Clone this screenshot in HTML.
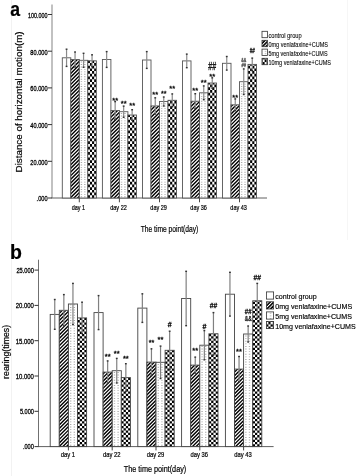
<!DOCTYPE html>
<html><head><meta charset="utf-8"><style>
html,body{margin:0;padding:0;background:#fff;width:359px;height:476px;overflow:hidden;}
svg{display:block;font-family:"Liberation Sans", sans-serif;filter:grayscale(1);}
text{stroke:#000;stroke-width:0.2px;paint-order:stroke;}
.tl{stroke-width:0.3px;}
</style></head><body>
<svg width="359" height="476" viewBox="0 0 359 476" font-family='"Liberation Sans", sans-serif'>
<defs>
 <pattern id="stA" patternUnits="userSpaceOnUse" width="2.55" height="2.55" patternTransform="rotate(45)">
  <rect width="2.55" height="2.55" fill="#000"/><rect x="0" width="0.95" height="2.55" fill="#fff"/>
 </pattern>
 <pattern id="stB" patternUnits="userSpaceOnUse" width="2.55" height="2.55" patternTransform="rotate(45)">
  <rect width="2.55" height="2.55" fill="#000"/><rect x="0" width="0.95" height="2.55" fill="#fff"/>
 </pattern>
 <pattern id="ckA" patternUnits="userSpaceOnUse" width="4.2" height="5.4">
  <rect width="4.2" height="5.4" fill="#fff"/><rect width="2.1" height="2.7" fill="#000"/><rect x="2.1" y="2.7" width="2.1" height="2.7" fill="#000"/>
 </pattern>
 <pattern id="ckB" patternUnits="userSpaceOnUse" width="4.4" height="4.6">
  <rect width="4.4" height="4.6" fill="#fff"/><rect width="2.2" height="2.3" fill="#000"/><rect x="2.2" y="2.3" width="2.2" height="2.3" fill="#000"/>
 </pattern>
 <pattern id="dtA" patternUnits="userSpaceOnUse" width="4.25" height="2.5">
  <rect width="4.25" height="2.5" fill="#fff"/><rect x="1.4" y="0.8" width="1.4" height="0.9" fill="#aaa"/>
 </pattern>
 <pattern id="dtB" patternUnits="userSpaceOnUse" width="4.55" height="2.6">
  <rect width="4.55" height="2.6" fill="#fff"/><rect x="1.5" y="0.8" width="1.4" height="0.9" fill="#aaa"/>
 </pattern>
</defs><rect width="359" height="476" fill="#fff"/><line x1="11.5" y1="0" x2="11.5" y2="476" stroke="#f2f2f2" stroke-width="1"/><line x1="347.5" y1="0" x2="347.5" y2="240" stroke="#f6f6f6" stroke-width="1"/><line x1="52" y1="4.5" x2="52" y2="198" stroke="#a0a0a0" stroke-width="1.3"/>
<line x1="51.5" y1="198" x2="267" y2="198" stroke="#606060" stroke-width="1"/>
<line x1="48" y1="14.5" x2="52" y2="14.5" stroke="#333" stroke-width="1"/>
<text x="47.6" y="17.8" font-size="7.6" text-anchor="end" font-weight="normal" fill="#000" textLength="19.5" lengthAdjust="spacingAndGlyphs" class="tl">100.000</text>
<line x1="48" y1="51.2" x2="52" y2="51.2" stroke="#333" stroke-width="1"/>
<text x="47.6" y="54.5" font-size="7.6" text-anchor="end" font-weight="normal" fill="#000" textLength="17.3" lengthAdjust="spacingAndGlyphs" class="tl">80.000</text>
<line x1="48" y1="87.9" x2="52" y2="87.9" stroke="#333" stroke-width="1"/>
<text x="47.6" y="91.2" font-size="7.6" text-anchor="end" font-weight="normal" fill="#000" textLength="17.3" lengthAdjust="spacingAndGlyphs" class="tl">60.000</text>
<line x1="48" y1="124.6" x2="52" y2="124.6" stroke="#333" stroke-width="1"/>
<text x="47.6" y="127.89999999999999" font-size="7.6" text-anchor="end" font-weight="normal" fill="#000" textLength="17.3" lengthAdjust="spacingAndGlyphs" class="tl">40.000</text>
<line x1="48" y1="161.3" x2="52" y2="161.3" stroke="#333" stroke-width="1"/>
<text x="47.6" y="164.60000000000002" font-size="7.6" text-anchor="end" font-weight="normal" fill="#000" textLength="17.3" lengthAdjust="spacingAndGlyphs" class="tl">20.000</text>
<line x1="48" y1="198" x2="52" y2="198" stroke="#333" stroke-width="1"/>
<text x="47.6" y="201.3" font-size="7.6" text-anchor="end" font-weight="normal" fill="#000" textLength="11" lengthAdjust="spacingAndGlyphs" class="tl">.000</text>
<line x1="79.3" y1="198" x2="79.3" y2="202.3" stroke="#333" stroke-width="0.9"/>
<text x="78.39999999999999" y="210.2" font-size="6.8" text-anchor="middle" font-weight="normal" fill="#000" textLength="13.4" lengthAdjust="spacingAndGlyphs" >day 1</text>
<rect x="62.30" y="57.8" width="8.5" height="140.20" fill="#fff" stroke="#555" stroke-width="0.9"/>
<clipPath id="c1"><rect x="70.80" y="59.50" width="8.50" height="138.50"/></clipPath>
<g clip-path="url(#c1)">
<rect x="70.80" y="59.50" width="8.50" height="138.50" fill="#000"/>
<path d="M69.80 54.30L80.30 43.80M69.80 57.95L80.30 47.45M69.80 61.60L80.30 51.10M69.80 65.25L80.30 54.75M69.80 68.90L80.30 58.40M69.80 72.55L80.30 62.05M69.80 76.20L80.30 65.70M69.80 79.85L80.30 69.35M69.80 83.50L80.30 73.00M69.80 87.15L80.30 76.65M69.80 90.80L80.30 80.30M69.80 94.45L80.30 83.95M69.80 98.10L80.30 87.60M69.80 101.75L80.30 91.25M69.80 105.40L80.30 94.90M69.80 109.05L80.30 98.55M69.80 112.70L80.30 102.20M69.80 116.35L80.30 105.85M69.80 120.00L80.30 109.50M69.80 123.65L80.30 113.15M69.80 127.30L80.30 116.80M69.80 130.95L80.30 120.45M69.80 134.60L80.30 124.10M69.80 138.25L80.30 127.75M69.80 141.90L80.30 131.40M69.80 145.55L80.30 135.05M69.80 149.20L80.30 138.70M69.80 152.85L80.30 142.35M69.80 156.50L80.30 146.00M69.80 160.15L80.30 149.65M69.80 163.80L80.30 153.30M69.80 167.45L80.30 156.95M69.80 171.10L80.30 160.60M69.80 174.75L80.30 164.25M69.80 178.40L80.30 167.90M69.80 182.05L80.30 171.55M69.80 185.70L80.30 175.20M69.80 189.35L80.30 178.85M69.80 193.00L80.30 182.50M69.80 196.65L80.30 186.15M69.80 200.30L80.30 189.80M69.80 203.95L80.30 193.45M69.80 207.60L80.30 197.10" stroke="#fff" stroke-width="1.2" fill="none"/>
</g>
<rect x="70.80" y="59.5" width="8.5" height="138.50" fill="none" stroke="#555" stroke-width="0.9"/>
<clipPath id="c2"><rect x="79.30" y="60.30" width="8.50" height="137.70"/></clipPath>
<g clip-path="url(#c2)">
<rect x="79.30" y="60.30" width="8.50" height="137.70" fill="#fff"/>
<path d="M80.72 196.35h1.4v0.9h-1.4zM84.12 196.35h1.4v0.9h-1.4zM80.72 193.90h1.4v0.9h-1.4zM84.12 193.90h1.4v0.9h-1.4zM80.72 191.45h1.4v0.9h-1.4zM84.12 191.45h1.4v0.9h-1.4zM80.72 189.00h1.4v0.9h-1.4zM84.12 189.00h1.4v0.9h-1.4zM80.72 186.55h1.4v0.9h-1.4zM84.12 186.55h1.4v0.9h-1.4zM80.72 184.10h1.4v0.9h-1.4zM84.12 184.10h1.4v0.9h-1.4zM80.72 181.65h1.4v0.9h-1.4zM84.12 181.65h1.4v0.9h-1.4zM80.72 179.20h1.4v0.9h-1.4zM84.12 179.20h1.4v0.9h-1.4zM80.72 176.75h1.4v0.9h-1.4zM84.12 176.75h1.4v0.9h-1.4zM80.72 174.30h1.4v0.9h-1.4zM84.12 174.30h1.4v0.9h-1.4zM80.72 171.85h1.4v0.9h-1.4zM84.12 171.85h1.4v0.9h-1.4zM80.72 169.40h1.4v0.9h-1.4zM84.12 169.40h1.4v0.9h-1.4zM80.72 166.95h1.4v0.9h-1.4zM84.12 166.95h1.4v0.9h-1.4zM80.72 164.50h1.4v0.9h-1.4zM84.12 164.50h1.4v0.9h-1.4zM80.72 162.05h1.4v0.9h-1.4zM84.12 162.05h1.4v0.9h-1.4zM80.72 159.60h1.4v0.9h-1.4zM84.12 159.60h1.4v0.9h-1.4zM80.72 157.15h1.4v0.9h-1.4zM84.12 157.15h1.4v0.9h-1.4zM80.72 154.70h1.4v0.9h-1.4zM84.12 154.70h1.4v0.9h-1.4zM80.72 152.25h1.4v0.9h-1.4zM84.12 152.25h1.4v0.9h-1.4zM80.72 149.80h1.4v0.9h-1.4zM84.12 149.80h1.4v0.9h-1.4zM80.72 147.35h1.4v0.9h-1.4zM84.12 147.35h1.4v0.9h-1.4zM80.72 144.90h1.4v0.9h-1.4zM84.12 144.90h1.4v0.9h-1.4zM80.72 142.45h1.4v0.9h-1.4zM84.12 142.45h1.4v0.9h-1.4zM80.72 140.00h1.4v0.9h-1.4zM84.12 140.00h1.4v0.9h-1.4zM80.72 137.55h1.4v0.9h-1.4zM84.12 137.55h1.4v0.9h-1.4zM80.72 135.10h1.4v0.9h-1.4zM84.12 135.10h1.4v0.9h-1.4zM80.72 132.65h1.4v0.9h-1.4zM84.12 132.65h1.4v0.9h-1.4zM80.72 130.20h1.4v0.9h-1.4zM84.12 130.20h1.4v0.9h-1.4zM80.72 127.75h1.4v0.9h-1.4zM84.12 127.75h1.4v0.9h-1.4zM80.72 125.30h1.4v0.9h-1.4zM84.12 125.30h1.4v0.9h-1.4zM80.72 122.85h1.4v0.9h-1.4zM84.12 122.85h1.4v0.9h-1.4zM80.72 120.40h1.4v0.9h-1.4zM84.12 120.40h1.4v0.9h-1.4zM80.72 117.95h1.4v0.9h-1.4zM84.12 117.95h1.4v0.9h-1.4zM80.72 115.50h1.4v0.9h-1.4zM84.12 115.50h1.4v0.9h-1.4zM80.72 113.05h1.4v0.9h-1.4zM84.12 113.05h1.4v0.9h-1.4zM80.72 110.60h1.4v0.9h-1.4zM84.12 110.60h1.4v0.9h-1.4zM80.72 108.15h1.4v0.9h-1.4zM84.12 108.15h1.4v0.9h-1.4zM80.72 105.70h1.4v0.9h-1.4zM84.12 105.70h1.4v0.9h-1.4zM80.72 103.25h1.4v0.9h-1.4zM84.12 103.25h1.4v0.9h-1.4zM80.72 100.80h1.4v0.9h-1.4zM84.12 100.80h1.4v0.9h-1.4zM80.72 98.35h1.4v0.9h-1.4zM84.12 98.35h1.4v0.9h-1.4zM80.72 95.90h1.4v0.9h-1.4zM84.12 95.90h1.4v0.9h-1.4zM80.72 93.45h1.4v0.9h-1.4zM84.12 93.45h1.4v0.9h-1.4zM80.72 91.00h1.4v0.9h-1.4zM84.12 91.00h1.4v0.9h-1.4zM80.72 88.55h1.4v0.9h-1.4zM84.12 88.55h1.4v0.9h-1.4zM80.72 86.10h1.4v0.9h-1.4zM84.12 86.10h1.4v0.9h-1.4zM80.72 83.65h1.4v0.9h-1.4zM84.12 83.65h1.4v0.9h-1.4zM80.72 81.20h1.4v0.9h-1.4zM84.12 81.20h1.4v0.9h-1.4zM80.72 78.75h1.4v0.9h-1.4zM84.12 78.75h1.4v0.9h-1.4zM80.72 76.30h1.4v0.9h-1.4zM84.12 76.30h1.4v0.9h-1.4zM80.72 73.85h1.4v0.9h-1.4zM84.12 73.85h1.4v0.9h-1.4zM80.72 71.40h1.4v0.9h-1.4zM84.12 71.40h1.4v0.9h-1.4zM80.72 68.95h1.4v0.9h-1.4zM84.12 68.95h1.4v0.9h-1.4zM80.72 66.50h1.4v0.9h-1.4zM84.12 66.50h1.4v0.9h-1.4zM80.72 64.05h1.4v0.9h-1.4zM84.12 64.05h1.4v0.9h-1.4zM80.72 61.60h1.4v0.9h-1.4zM84.12 61.60h1.4v0.9h-1.4zM80.72 59.15h1.4v0.9h-1.4zM84.12 59.15h1.4v0.9h-1.4z" fill="#aaa"/>
</g>
<rect x="79.30" y="60.3" width="8.5" height="137.70" fill="none" stroke="#555" stroke-width="0.9"/>
<clipPath id="c3"><rect x="87.80" y="60.80" width="8.50" height="137.20"/></clipPath>
<g clip-path="url(#c3)">
<rect x="87.80" y="60.80" width="8.50" height="137.20" fill="#fff"/>
<path d="M87.80 195.30h2.125v2.7h-2.125zM92.05 195.30h2.125v2.7h-2.125zM96.30 195.30h2.125v2.7h-2.125zM89.92 192.60h2.125v2.7h-2.125zM94.17 192.60h2.125v2.7h-2.125zM98.42 192.60h2.125v2.7h-2.125zM87.80 189.90h2.125v2.7h-2.125zM92.05 189.90h2.125v2.7h-2.125zM96.30 189.90h2.125v2.7h-2.125zM89.92 187.20h2.125v2.7h-2.125zM94.17 187.20h2.125v2.7h-2.125zM98.42 187.20h2.125v2.7h-2.125zM87.80 184.50h2.125v2.7h-2.125zM92.05 184.50h2.125v2.7h-2.125zM96.30 184.50h2.125v2.7h-2.125zM89.92 181.80h2.125v2.7h-2.125zM94.17 181.80h2.125v2.7h-2.125zM98.42 181.80h2.125v2.7h-2.125zM87.80 179.10h2.125v2.7h-2.125zM92.05 179.10h2.125v2.7h-2.125zM96.30 179.10h2.125v2.7h-2.125zM89.92 176.40h2.125v2.7h-2.125zM94.17 176.40h2.125v2.7h-2.125zM98.42 176.40h2.125v2.7h-2.125zM87.80 173.70h2.125v2.7h-2.125zM92.05 173.70h2.125v2.7h-2.125zM96.30 173.70h2.125v2.7h-2.125zM89.92 171.00h2.125v2.7h-2.125zM94.17 171.00h2.125v2.7h-2.125zM98.42 171.00h2.125v2.7h-2.125zM87.80 168.30h2.125v2.7h-2.125zM92.05 168.30h2.125v2.7h-2.125zM96.30 168.30h2.125v2.7h-2.125zM89.92 165.60h2.125v2.7h-2.125zM94.17 165.60h2.125v2.7h-2.125zM98.42 165.60h2.125v2.7h-2.125zM87.80 162.90h2.125v2.7h-2.125zM92.05 162.90h2.125v2.7h-2.125zM96.30 162.90h2.125v2.7h-2.125zM89.92 160.20h2.125v2.7h-2.125zM94.17 160.20h2.125v2.7h-2.125zM98.42 160.20h2.125v2.7h-2.125zM87.80 157.50h2.125v2.7h-2.125zM92.05 157.50h2.125v2.7h-2.125zM96.30 157.50h2.125v2.7h-2.125zM89.92 154.80h2.125v2.7h-2.125zM94.17 154.80h2.125v2.7h-2.125zM98.42 154.80h2.125v2.7h-2.125zM87.80 152.10h2.125v2.7h-2.125zM92.05 152.10h2.125v2.7h-2.125zM96.30 152.10h2.125v2.7h-2.125zM89.92 149.40h2.125v2.7h-2.125zM94.17 149.40h2.125v2.7h-2.125zM98.42 149.40h2.125v2.7h-2.125zM87.80 146.70h2.125v2.7h-2.125zM92.05 146.70h2.125v2.7h-2.125zM96.30 146.70h2.125v2.7h-2.125zM89.92 144.00h2.125v2.7h-2.125zM94.17 144.00h2.125v2.7h-2.125zM98.42 144.00h2.125v2.7h-2.125zM87.80 141.30h2.125v2.7h-2.125zM92.05 141.30h2.125v2.7h-2.125zM96.30 141.30h2.125v2.7h-2.125zM89.92 138.60h2.125v2.7h-2.125zM94.17 138.60h2.125v2.7h-2.125zM98.42 138.60h2.125v2.7h-2.125zM87.80 135.90h2.125v2.7h-2.125zM92.05 135.90h2.125v2.7h-2.125zM96.30 135.90h2.125v2.7h-2.125zM89.92 133.20h2.125v2.7h-2.125zM94.17 133.20h2.125v2.7h-2.125zM98.42 133.20h2.125v2.7h-2.125zM87.80 130.50h2.125v2.7h-2.125zM92.05 130.50h2.125v2.7h-2.125zM96.30 130.50h2.125v2.7h-2.125zM89.92 127.80h2.125v2.7h-2.125zM94.17 127.80h2.125v2.7h-2.125zM98.42 127.80h2.125v2.7h-2.125zM87.80 125.10h2.125v2.7h-2.125zM92.05 125.10h2.125v2.7h-2.125zM96.30 125.10h2.125v2.7h-2.125zM89.92 122.40h2.125v2.7h-2.125zM94.17 122.40h2.125v2.7h-2.125zM98.42 122.40h2.125v2.7h-2.125zM87.80 119.70h2.125v2.7h-2.125zM92.05 119.70h2.125v2.7h-2.125zM96.30 119.70h2.125v2.7h-2.125zM89.92 117.00h2.125v2.7h-2.125zM94.17 117.00h2.125v2.7h-2.125zM98.42 117.00h2.125v2.7h-2.125zM87.80 114.30h2.125v2.7h-2.125zM92.05 114.30h2.125v2.7h-2.125zM96.30 114.30h2.125v2.7h-2.125zM89.92 111.60h2.125v2.7h-2.125zM94.17 111.60h2.125v2.7h-2.125zM98.42 111.60h2.125v2.7h-2.125zM87.80 108.90h2.125v2.7h-2.125zM92.05 108.90h2.125v2.7h-2.125zM96.30 108.90h2.125v2.7h-2.125zM89.92 106.20h2.125v2.7h-2.125zM94.17 106.20h2.125v2.7h-2.125zM98.42 106.20h2.125v2.7h-2.125zM87.80 103.50h2.125v2.7h-2.125zM92.05 103.50h2.125v2.7h-2.125zM96.30 103.50h2.125v2.7h-2.125zM89.92 100.80h2.125v2.7h-2.125zM94.17 100.80h2.125v2.7h-2.125zM98.42 100.80h2.125v2.7h-2.125zM87.80 98.10h2.125v2.7h-2.125zM92.05 98.10h2.125v2.7h-2.125zM96.30 98.10h2.125v2.7h-2.125zM89.92 95.40h2.125v2.7h-2.125zM94.17 95.40h2.125v2.7h-2.125zM98.42 95.40h2.125v2.7h-2.125zM87.80 92.70h2.125v2.7h-2.125zM92.05 92.70h2.125v2.7h-2.125zM96.30 92.70h2.125v2.7h-2.125zM89.92 90.00h2.125v2.7h-2.125zM94.17 90.00h2.125v2.7h-2.125zM98.42 90.00h2.125v2.7h-2.125zM87.80 87.30h2.125v2.7h-2.125zM92.05 87.30h2.125v2.7h-2.125zM96.30 87.30h2.125v2.7h-2.125zM89.92 84.60h2.125v2.7h-2.125zM94.17 84.60h2.125v2.7h-2.125zM98.42 84.60h2.125v2.7h-2.125zM87.80 81.90h2.125v2.7h-2.125zM92.05 81.90h2.125v2.7h-2.125zM96.30 81.90h2.125v2.7h-2.125zM89.92 79.20h2.125v2.7h-2.125zM94.17 79.20h2.125v2.7h-2.125zM98.42 79.20h2.125v2.7h-2.125zM87.80 76.50h2.125v2.7h-2.125zM92.05 76.50h2.125v2.7h-2.125zM96.30 76.50h2.125v2.7h-2.125zM89.92 73.80h2.125v2.7h-2.125zM94.17 73.80h2.125v2.7h-2.125zM98.42 73.80h2.125v2.7h-2.125zM87.80 71.10h2.125v2.7h-2.125zM92.05 71.10h2.125v2.7h-2.125zM96.30 71.10h2.125v2.7h-2.125zM89.92 68.40h2.125v2.7h-2.125zM94.17 68.40h2.125v2.7h-2.125zM98.42 68.40h2.125v2.7h-2.125zM87.80 65.70h2.125v2.7h-2.125zM92.05 65.70h2.125v2.7h-2.125zM96.30 65.70h2.125v2.7h-2.125zM89.92 63.00h2.125v2.7h-2.125zM94.17 63.00h2.125v2.7h-2.125zM98.42 63.00h2.125v2.7h-2.125zM87.80 60.30h2.125v2.7h-2.125zM92.05 60.30h2.125v2.7h-2.125zM96.30 60.30h2.125v2.7h-2.125z" fill="#000"/>
</g>
<rect x="87.80" y="60.8" width="8.5" height="137.20" fill="none" stroke="#555" stroke-width="0.9"/>
<line x1="66.55" y1="49.2" x2="66.55" y2="66.40" stroke="#8a8a8a" stroke-width="1.2"/>
<rect x="65.65" y="48.50" width="1.8" height="1.4" fill="#333"/>
<rect x="65.65" y="65.70" width="1.8" height="1.4" fill="#333"/>
<line x1="75.05" y1="52.0" x2="75.05" y2="67.00" stroke="#8a8a8a" stroke-width="1.2"/>
<rect x="74.15" y="51.30" width="1.8" height="1.4" fill="#333"/>
<rect x="74.15" y="66.30" width="1.8" height="1.4" fill="#333"/>
<line x1="83.55" y1="53.3" x2="83.55" y2="67.30" stroke="#8a8a8a" stroke-width="1.2"/>
<rect x="82.65" y="52.60" width="1.8" height="1.4" fill="#333"/>
<rect x="82.65" y="66.60" width="1.8" height="1.4" fill="#333"/>
<line x1="92.05" y1="54.8" x2="92.05" y2="66.80" stroke="#8a8a8a" stroke-width="1.2"/>
<rect x="91.15" y="54.10" width="1.8" height="1.4" fill="#333"/>
<rect x="91.15" y="66.10" width="1.8" height="1.4" fill="#333"/>
<line x1="119.4" y1="198" x2="119.4" y2="202.3" stroke="#333" stroke-width="0.9"/>
<text x="118.5" y="210.2" font-size="6.8" text-anchor="middle" font-weight="normal" fill="#000" textLength="16.5" lengthAdjust="spacingAndGlyphs" >day 22</text>
<rect x="102.40" y="59.5" width="8.5" height="138.50" fill="#fff" stroke="#555" stroke-width="0.9"/>
<clipPath id="c4"><rect x="110.90" y="110.50" width="8.50" height="87.50"/></clipPath>
<g clip-path="url(#c4)">
<rect x="110.90" y="110.50" width="8.50" height="87.50" fill="#000"/>
<path d="M109.90 105.45L120.40 94.95M109.90 109.10L120.40 98.60M109.90 112.75L120.40 102.25M109.90 116.40L120.40 105.90M109.90 120.05L120.40 109.55M109.90 123.70L120.40 113.20M109.90 127.35L120.40 116.85M109.90 131.00L120.40 120.50M109.90 134.65L120.40 124.15M109.90 138.30L120.40 127.80M109.90 141.95L120.40 131.45M109.90 145.60L120.40 135.10M109.90 149.25L120.40 138.75M109.90 152.90L120.40 142.40M109.90 156.55L120.40 146.05M109.90 160.20L120.40 149.70M109.90 163.85L120.40 153.35M109.90 167.50L120.40 157.00M109.90 171.15L120.40 160.65M109.90 174.80L120.40 164.30M109.90 178.45L120.40 167.95M109.90 182.10L120.40 171.60M109.90 185.75L120.40 175.25M109.90 189.40L120.40 178.90M109.90 193.05L120.40 182.55M109.90 196.70L120.40 186.20M109.90 200.35L120.40 189.85M109.90 204.00L120.40 193.50M109.90 207.65L120.40 197.15" stroke="#fff" stroke-width="1.2" fill="none"/>
</g>
<rect x="110.90" y="110.5" width="8.5" height="87.50" fill="none" stroke="#555" stroke-width="0.9"/>
<clipPath id="c5"><rect x="119.40" y="111.70" width="8.50" height="86.30"/></clipPath>
<g clip-path="url(#c5)">
<rect x="119.40" y="111.70" width="8.50" height="86.30" fill="#fff"/>
<path d="M120.83 196.35h1.4v0.9h-1.4zM124.23 196.35h1.4v0.9h-1.4zM120.83 193.90h1.4v0.9h-1.4zM124.23 193.90h1.4v0.9h-1.4zM120.83 191.45h1.4v0.9h-1.4zM124.23 191.45h1.4v0.9h-1.4zM120.83 189.00h1.4v0.9h-1.4zM124.23 189.00h1.4v0.9h-1.4zM120.83 186.55h1.4v0.9h-1.4zM124.23 186.55h1.4v0.9h-1.4zM120.83 184.10h1.4v0.9h-1.4zM124.23 184.10h1.4v0.9h-1.4zM120.83 181.65h1.4v0.9h-1.4zM124.23 181.65h1.4v0.9h-1.4zM120.83 179.20h1.4v0.9h-1.4zM124.23 179.20h1.4v0.9h-1.4zM120.83 176.75h1.4v0.9h-1.4zM124.23 176.75h1.4v0.9h-1.4zM120.83 174.30h1.4v0.9h-1.4zM124.23 174.30h1.4v0.9h-1.4zM120.83 171.85h1.4v0.9h-1.4zM124.23 171.85h1.4v0.9h-1.4zM120.83 169.40h1.4v0.9h-1.4zM124.23 169.40h1.4v0.9h-1.4zM120.83 166.95h1.4v0.9h-1.4zM124.23 166.95h1.4v0.9h-1.4zM120.83 164.50h1.4v0.9h-1.4zM124.23 164.50h1.4v0.9h-1.4zM120.83 162.05h1.4v0.9h-1.4zM124.23 162.05h1.4v0.9h-1.4zM120.83 159.60h1.4v0.9h-1.4zM124.23 159.60h1.4v0.9h-1.4zM120.83 157.15h1.4v0.9h-1.4zM124.23 157.15h1.4v0.9h-1.4zM120.83 154.70h1.4v0.9h-1.4zM124.23 154.70h1.4v0.9h-1.4zM120.83 152.25h1.4v0.9h-1.4zM124.23 152.25h1.4v0.9h-1.4zM120.83 149.80h1.4v0.9h-1.4zM124.23 149.80h1.4v0.9h-1.4zM120.83 147.35h1.4v0.9h-1.4zM124.23 147.35h1.4v0.9h-1.4zM120.83 144.90h1.4v0.9h-1.4zM124.23 144.90h1.4v0.9h-1.4zM120.83 142.45h1.4v0.9h-1.4zM124.23 142.45h1.4v0.9h-1.4zM120.83 140.00h1.4v0.9h-1.4zM124.23 140.00h1.4v0.9h-1.4zM120.83 137.55h1.4v0.9h-1.4zM124.23 137.55h1.4v0.9h-1.4zM120.83 135.10h1.4v0.9h-1.4zM124.23 135.10h1.4v0.9h-1.4zM120.83 132.65h1.4v0.9h-1.4zM124.23 132.65h1.4v0.9h-1.4zM120.83 130.20h1.4v0.9h-1.4zM124.23 130.20h1.4v0.9h-1.4zM120.83 127.75h1.4v0.9h-1.4zM124.23 127.75h1.4v0.9h-1.4zM120.83 125.30h1.4v0.9h-1.4zM124.23 125.30h1.4v0.9h-1.4zM120.83 122.85h1.4v0.9h-1.4zM124.23 122.85h1.4v0.9h-1.4zM120.83 120.40h1.4v0.9h-1.4zM124.23 120.40h1.4v0.9h-1.4zM120.83 117.95h1.4v0.9h-1.4zM124.23 117.95h1.4v0.9h-1.4zM120.83 115.50h1.4v0.9h-1.4zM124.23 115.50h1.4v0.9h-1.4zM120.83 113.05h1.4v0.9h-1.4zM124.23 113.05h1.4v0.9h-1.4zM120.83 110.60h1.4v0.9h-1.4zM124.23 110.60h1.4v0.9h-1.4z" fill="#aaa"/>
</g>
<rect x="119.40" y="111.7" width="8.5" height="86.30" fill="none" stroke="#555" stroke-width="0.9"/>
<clipPath id="c6"><rect x="127.90" y="115.00" width="8.50" height="83.00"/></clipPath>
<g clip-path="url(#c6)">
<rect x="127.90" y="115.00" width="8.50" height="83.00" fill="#fff"/>
<path d="M127.90 195.30h2.125v2.7h-2.125zM132.15 195.30h2.125v2.7h-2.125zM136.40 195.30h2.125v2.7h-2.125zM130.03 192.60h2.125v2.7h-2.125zM134.28 192.60h2.125v2.7h-2.125zM138.53 192.60h2.125v2.7h-2.125zM127.90 189.90h2.125v2.7h-2.125zM132.15 189.90h2.125v2.7h-2.125zM136.40 189.90h2.125v2.7h-2.125zM130.03 187.20h2.125v2.7h-2.125zM134.28 187.20h2.125v2.7h-2.125zM138.53 187.20h2.125v2.7h-2.125zM127.90 184.50h2.125v2.7h-2.125zM132.15 184.50h2.125v2.7h-2.125zM136.40 184.50h2.125v2.7h-2.125zM130.03 181.80h2.125v2.7h-2.125zM134.28 181.80h2.125v2.7h-2.125zM138.53 181.80h2.125v2.7h-2.125zM127.90 179.10h2.125v2.7h-2.125zM132.15 179.10h2.125v2.7h-2.125zM136.40 179.10h2.125v2.7h-2.125zM130.03 176.40h2.125v2.7h-2.125zM134.28 176.40h2.125v2.7h-2.125zM138.53 176.40h2.125v2.7h-2.125zM127.90 173.70h2.125v2.7h-2.125zM132.15 173.70h2.125v2.7h-2.125zM136.40 173.70h2.125v2.7h-2.125zM130.03 171.00h2.125v2.7h-2.125zM134.28 171.00h2.125v2.7h-2.125zM138.53 171.00h2.125v2.7h-2.125zM127.90 168.30h2.125v2.7h-2.125zM132.15 168.30h2.125v2.7h-2.125zM136.40 168.30h2.125v2.7h-2.125zM130.03 165.60h2.125v2.7h-2.125zM134.28 165.60h2.125v2.7h-2.125zM138.53 165.60h2.125v2.7h-2.125zM127.90 162.90h2.125v2.7h-2.125zM132.15 162.90h2.125v2.7h-2.125zM136.40 162.90h2.125v2.7h-2.125zM130.03 160.20h2.125v2.7h-2.125zM134.28 160.20h2.125v2.7h-2.125zM138.53 160.20h2.125v2.7h-2.125zM127.90 157.50h2.125v2.7h-2.125zM132.15 157.50h2.125v2.7h-2.125zM136.40 157.50h2.125v2.7h-2.125zM130.03 154.80h2.125v2.7h-2.125zM134.28 154.80h2.125v2.7h-2.125zM138.53 154.80h2.125v2.7h-2.125zM127.90 152.10h2.125v2.7h-2.125zM132.15 152.10h2.125v2.7h-2.125zM136.40 152.10h2.125v2.7h-2.125zM130.03 149.40h2.125v2.7h-2.125zM134.28 149.40h2.125v2.7h-2.125zM138.53 149.40h2.125v2.7h-2.125zM127.90 146.70h2.125v2.7h-2.125zM132.15 146.70h2.125v2.7h-2.125zM136.40 146.70h2.125v2.7h-2.125zM130.03 144.00h2.125v2.7h-2.125zM134.28 144.00h2.125v2.7h-2.125zM138.53 144.00h2.125v2.7h-2.125zM127.90 141.30h2.125v2.7h-2.125zM132.15 141.30h2.125v2.7h-2.125zM136.40 141.30h2.125v2.7h-2.125zM130.03 138.60h2.125v2.7h-2.125zM134.28 138.60h2.125v2.7h-2.125zM138.53 138.60h2.125v2.7h-2.125zM127.90 135.90h2.125v2.7h-2.125zM132.15 135.90h2.125v2.7h-2.125zM136.40 135.90h2.125v2.7h-2.125zM130.03 133.20h2.125v2.7h-2.125zM134.28 133.20h2.125v2.7h-2.125zM138.53 133.20h2.125v2.7h-2.125zM127.90 130.50h2.125v2.7h-2.125zM132.15 130.50h2.125v2.7h-2.125zM136.40 130.50h2.125v2.7h-2.125zM130.03 127.80h2.125v2.7h-2.125zM134.28 127.80h2.125v2.7h-2.125zM138.53 127.80h2.125v2.7h-2.125zM127.90 125.10h2.125v2.7h-2.125zM132.15 125.10h2.125v2.7h-2.125zM136.40 125.10h2.125v2.7h-2.125zM130.03 122.40h2.125v2.7h-2.125zM134.28 122.40h2.125v2.7h-2.125zM138.53 122.40h2.125v2.7h-2.125zM127.90 119.70h2.125v2.7h-2.125zM132.15 119.70h2.125v2.7h-2.125zM136.40 119.70h2.125v2.7h-2.125zM130.03 117.00h2.125v2.7h-2.125zM134.28 117.00h2.125v2.7h-2.125zM138.53 117.00h2.125v2.7h-2.125zM127.90 114.30h2.125v2.7h-2.125zM132.15 114.30h2.125v2.7h-2.125zM136.40 114.30h2.125v2.7h-2.125z" fill="#000"/>
</g>
<rect x="127.90" y="115.0" width="8.5" height="83.00" fill="none" stroke="#555" stroke-width="0.9"/>
<line x1="106.65" y1="51.6" x2="106.65" y2="67.40" stroke="#8a8a8a" stroke-width="1.2"/>
<rect x="105.75" y="50.90" width="1.8" height="1.4" fill="#333"/>
<rect x="105.75" y="66.70" width="1.8" height="1.4" fill="#333"/>
<line x1="115.15" y1="101.6" x2="115.15" y2="119.40" stroke="#8a8a8a" stroke-width="1.2"/>
<rect x="114.25" y="100.90" width="1.8" height="1.4" fill="#333"/>
<rect x="114.25" y="118.70" width="1.8" height="1.4" fill="#333"/>
<line x1="123.65" y1="106.1" x2="123.65" y2="117.30" stroke="#8a8a8a" stroke-width="1.2"/>
<rect x="122.75" y="105.40" width="1.8" height="1.4" fill="#333"/>
<rect x="122.75" y="116.60" width="1.8" height="1.4" fill="#333"/>
<line x1="132.15" y1="109.7" x2="132.15" y2="120.30" stroke="#8a8a8a" stroke-width="1.2"/>
<rect x="131.25" y="109.00" width="1.8" height="1.4" fill="#333"/>
<rect x="131.25" y="119.60" width="1.8" height="1.4" fill="#333"/>
<line x1="159.5" y1="198" x2="159.5" y2="202.3" stroke="#333" stroke-width="0.9"/>
<text x="158.6" y="210.2" font-size="6.8" text-anchor="middle" font-weight="normal" fill="#000" textLength="16.5" lengthAdjust="spacingAndGlyphs" >day 29</text>
<rect x="142.50" y="60.0" width="8.5" height="138.00" fill="#fff" stroke="#555" stroke-width="0.9"/>
<clipPath id="c7"><rect x="151.00" y="105.90" width="8.50" height="92.10"/></clipPath>
<g clip-path="url(#c7)">
<rect x="151.00" y="105.90" width="8.50" height="92.10" fill="#000"/>
<path d="M150.00 101.85L160.50 91.35M150.00 105.50L160.50 95.00M150.00 109.15L160.50 98.65M150.00 112.80L160.50 102.30M150.00 116.45L160.50 105.95M150.00 120.10L160.50 109.60M150.00 123.75L160.50 113.25M150.00 127.40L160.50 116.90M150.00 131.05L160.50 120.55M150.00 134.70L160.50 124.20M150.00 138.35L160.50 127.85M150.00 142.00L160.50 131.50M150.00 145.65L160.50 135.15M150.00 149.30L160.50 138.80M150.00 152.95L160.50 142.45M150.00 156.60L160.50 146.10M150.00 160.25L160.50 149.75M150.00 163.90L160.50 153.40M150.00 167.55L160.50 157.05M150.00 171.20L160.50 160.70M150.00 174.85L160.50 164.35M150.00 178.50L160.50 168.00M150.00 182.15L160.50 171.65M150.00 185.80L160.50 175.30M150.00 189.45L160.50 178.95M150.00 193.10L160.50 182.60M150.00 196.75L160.50 186.25M150.00 200.40L160.50 189.90M150.00 204.05L160.50 193.55M150.00 207.70L160.50 197.20" stroke="#fff" stroke-width="1.2" fill="none"/>
</g>
<rect x="151.00" y="105.9" width="8.5" height="92.10" fill="none" stroke="#555" stroke-width="0.9"/>
<clipPath id="c8"><rect x="159.50" y="101.50" width="8.50" height="96.50"/></clipPath>
<g clip-path="url(#c8)">
<rect x="159.50" y="101.50" width="8.50" height="96.50" fill="#fff"/>
<path d="M160.93 196.35h1.4v0.9h-1.4zM164.33 196.35h1.4v0.9h-1.4zM160.93 193.90h1.4v0.9h-1.4zM164.33 193.90h1.4v0.9h-1.4zM160.93 191.45h1.4v0.9h-1.4zM164.33 191.45h1.4v0.9h-1.4zM160.93 189.00h1.4v0.9h-1.4zM164.33 189.00h1.4v0.9h-1.4zM160.93 186.55h1.4v0.9h-1.4zM164.33 186.55h1.4v0.9h-1.4zM160.93 184.10h1.4v0.9h-1.4zM164.33 184.10h1.4v0.9h-1.4zM160.93 181.65h1.4v0.9h-1.4zM164.33 181.65h1.4v0.9h-1.4zM160.93 179.20h1.4v0.9h-1.4zM164.33 179.20h1.4v0.9h-1.4zM160.93 176.75h1.4v0.9h-1.4zM164.33 176.75h1.4v0.9h-1.4zM160.93 174.30h1.4v0.9h-1.4zM164.33 174.30h1.4v0.9h-1.4zM160.93 171.85h1.4v0.9h-1.4zM164.33 171.85h1.4v0.9h-1.4zM160.93 169.40h1.4v0.9h-1.4zM164.33 169.40h1.4v0.9h-1.4zM160.93 166.95h1.4v0.9h-1.4zM164.33 166.95h1.4v0.9h-1.4zM160.93 164.50h1.4v0.9h-1.4zM164.33 164.50h1.4v0.9h-1.4zM160.93 162.05h1.4v0.9h-1.4zM164.33 162.05h1.4v0.9h-1.4zM160.93 159.60h1.4v0.9h-1.4zM164.33 159.60h1.4v0.9h-1.4zM160.93 157.15h1.4v0.9h-1.4zM164.33 157.15h1.4v0.9h-1.4zM160.93 154.70h1.4v0.9h-1.4zM164.33 154.70h1.4v0.9h-1.4zM160.93 152.25h1.4v0.9h-1.4zM164.33 152.25h1.4v0.9h-1.4zM160.93 149.80h1.4v0.9h-1.4zM164.33 149.80h1.4v0.9h-1.4zM160.93 147.35h1.4v0.9h-1.4zM164.33 147.35h1.4v0.9h-1.4zM160.93 144.90h1.4v0.9h-1.4zM164.33 144.90h1.4v0.9h-1.4zM160.93 142.45h1.4v0.9h-1.4zM164.33 142.45h1.4v0.9h-1.4zM160.93 140.00h1.4v0.9h-1.4zM164.33 140.00h1.4v0.9h-1.4zM160.93 137.55h1.4v0.9h-1.4zM164.33 137.55h1.4v0.9h-1.4zM160.93 135.10h1.4v0.9h-1.4zM164.33 135.10h1.4v0.9h-1.4zM160.93 132.65h1.4v0.9h-1.4zM164.33 132.65h1.4v0.9h-1.4zM160.93 130.20h1.4v0.9h-1.4zM164.33 130.20h1.4v0.9h-1.4zM160.93 127.75h1.4v0.9h-1.4zM164.33 127.75h1.4v0.9h-1.4zM160.93 125.30h1.4v0.9h-1.4zM164.33 125.30h1.4v0.9h-1.4zM160.93 122.85h1.4v0.9h-1.4zM164.33 122.85h1.4v0.9h-1.4zM160.93 120.40h1.4v0.9h-1.4zM164.33 120.40h1.4v0.9h-1.4zM160.93 117.95h1.4v0.9h-1.4zM164.33 117.95h1.4v0.9h-1.4zM160.93 115.50h1.4v0.9h-1.4zM164.33 115.50h1.4v0.9h-1.4zM160.93 113.05h1.4v0.9h-1.4zM164.33 113.05h1.4v0.9h-1.4zM160.93 110.60h1.4v0.9h-1.4zM164.33 110.60h1.4v0.9h-1.4zM160.93 108.15h1.4v0.9h-1.4zM164.33 108.15h1.4v0.9h-1.4zM160.93 105.70h1.4v0.9h-1.4zM164.33 105.70h1.4v0.9h-1.4zM160.93 103.25h1.4v0.9h-1.4zM164.33 103.25h1.4v0.9h-1.4zM160.93 100.80h1.4v0.9h-1.4zM164.33 100.80h1.4v0.9h-1.4z" fill="#aaa"/>
</g>
<rect x="159.50" y="101.5" width="8.5" height="96.50" fill="none" stroke="#555" stroke-width="0.9"/>
<clipPath id="c9"><rect x="168.00" y="100.30" width="8.50" height="97.70"/></clipPath>
<g clip-path="url(#c9)">
<rect x="168.00" y="100.30" width="8.50" height="97.70" fill="#fff"/>
<path d="M168.00 195.30h2.125v2.7h-2.125zM172.25 195.30h2.125v2.7h-2.125zM176.50 195.30h2.125v2.7h-2.125zM170.12 192.60h2.125v2.7h-2.125zM174.38 192.60h2.125v2.7h-2.125zM178.62 192.60h2.125v2.7h-2.125zM168.00 189.90h2.125v2.7h-2.125zM172.25 189.90h2.125v2.7h-2.125zM176.50 189.90h2.125v2.7h-2.125zM170.12 187.20h2.125v2.7h-2.125zM174.38 187.20h2.125v2.7h-2.125zM178.62 187.20h2.125v2.7h-2.125zM168.00 184.50h2.125v2.7h-2.125zM172.25 184.50h2.125v2.7h-2.125zM176.50 184.50h2.125v2.7h-2.125zM170.12 181.80h2.125v2.7h-2.125zM174.38 181.80h2.125v2.7h-2.125zM178.62 181.80h2.125v2.7h-2.125zM168.00 179.10h2.125v2.7h-2.125zM172.25 179.10h2.125v2.7h-2.125zM176.50 179.10h2.125v2.7h-2.125zM170.12 176.40h2.125v2.7h-2.125zM174.38 176.40h2.125v2.7h-2.125zM178.62 176.40h2.125v2.7h-2.125zM168.00 173.70h2.125v2.7h-2.125zM172.25 173.70h2.125v2.7h-2.125zM176.50 173.70h2.125v2.7h-2.125zM170.12 171.00h2.125v2.7h-2.125zM174.38 171.00h2.125v2.7h-2.125zM178.62 171.00h2.125v2.7h-2.125zM168.00 168.30h2.125v2.7h-2.125zM172.25 168.30h2.125v2.7h-2.125zM176.50 168.30h2.125v2.7h-2.125zM170.12 165.60h2.125v2.7h-2.125zM174.38 165.60h2.125v2.7h-2.125zM178.62 165.60h2.125v2.7h-2.125zM168.00 162.90h2.125v2.7h-2.125zM172.25 162.90h2.125v2.7h-2.125zM176.50 162.90h2.125v2.7h-2.125zM170.12 160.20h2.125v2.7h-2.125zM174.38 160.20h2.125v2.7h-2.125zM178.62 160.20h2.125v2.7h-2.125zM168.00 157.50h2.125v2.7h-2.125zM172.25 157.50h2.125v2.7h-2.125zM176.50 157.50h2.125v2.7h-2.125zM170.12 154.80h2.125v2.7h-2.125zM174.38 154.80h2.125v2.7h-2.125zM178.62 154.80h2.125v2.7h-2.125zM168.00 152.10h2.125v2.7h-2.125zM172.25 152.10h2.125v2.7h-2.125zM176.50 152.10h2.125v2.7h-2.125zM170.12 149.40h2.125v2.7h-2.125zM174.38 149.40h2.125v2.7h-2.125zM178.62 149.40h2.125v2.7h-2.125zM168.00 146.70h2.125v2.7h-2.125zM172.25 146.70h2.125v2.7h-2.125zM176.50 146.70h2.125v2.7h-2.125zM170.12 144.00h2.125v2.7h-2.125zM174.38 144.00h2.125v2.7h-2.125zM178.62 144.00h2.125v2.7h-2.125zM168.00 141.30h2.125v2.7h-2.125zM172.25 141.30h2.125v2.7h-2.125zM176.50 141.30h2.125v2.7h-2.125zM170.12 138.60h2.125v2.7h-2.125zM174.38 138.60h2.125v2.7h-2.125zM178.62 138.60h2.125v2.7h-2.125zM168.00 135.90h2.125v2.7h-2.125zM172.25 135.90h2.125v2.7h-2.125zM176.50 135.90h2.125v2.7h-2.125zM170.12 133.20h2.125v2.7h-2.125zM174.38 133.20h2.125v2.7h-2.125zM178.62 133.20h2.125v2.7h-2.125zM168.00 130.50h2.125v2.7h-2.125zM172.25 130.50h2.125v2.7h-2.125zM176.50 130.50h2.125v2.7h-2.125zM170.12 127.80h2.125v2.7h-2.125zM174.38 127.80h2.125v2.7h-2.125zM178.62 127.80h2.125v2.7h-2.125zM168.00 125.10h2.125v2.7h-2.125zM172.25 125.10h2.125v2.7h-2.125zM176.50 125.10h2.125v2.7h-2.125zM170.12 122.40h2.125v2.7h-2.125zM174.38 122.40h2.125v2.7h-2.125zM178.62 122.40h2.125v2.7h-2.125zM168.00 119.70h2.125v2.7h-2.125zM172.25 119.70h2.125v2.7h-2.125zM176.50 119.70h2.125v2.7h-2.125zM170.12 117.00h2.125v2.7h-2.125zM174.38 117.00h2.125v2.7h-2.125zM178.62 117.00h2.125v2.7h-2.125zM168.00 114.30h2.125v2.7h-2.125zM172.25 114.30h2.125v2.7h-2.125zM176.50 114.30h2.125v2.7h-2.125zM170.12 111.60h2.125v2.7h-2.125zM174.38 111.60h2.125v2.7h-2.125zM178.62 111.60h2.125v2.7h-2.125zM168.00 108.90h2.125v2.7h-2.125zM172.25 108.90h2.125v2.7h-2.125zM176.50 108.90h2.125v2.7h-2.125zM170.12 106.20h2.125v2.7h-2.125zM174.38 106.20h2.125v2.7h-2.125zM178.62 106.20h2.125v2.7h-2.125zM168.00 103.50h2.125v2.7h-2.125zM172.25 103.50h2.125v2.7h-2.125zM176.50 103.50h2.125v2.7h-2.125zM170.12 100.80h2.125v2.7h-2.125zM174.38 100.80h2.125v2.7h-2.125zM178.62 100.80h2.125v2.7h-2.125zM168.00 98.10h2.125v2.7h-2.125zM172.25 98.10h2.125v2.7h-2.125zM176.50 98.10h2.125v2.7h-2.125z" fill="#000"/>
</g>
<rect x="168.00" y="100.3" width="8.5" height="97.70" fill="none" stroke="#555" stroke-width="0.9"/>
<line x1="146.75" y1="51.6" x2="146.75" y2="68.40" stroke="#8a8a8a" stroke-width="1.2"/>
<rect x="145.85" y="50.90" width="1.8" height="1.4" fill="#333"/>
<rect x="145.85" y="67.70" width="1.8" height="1.4" fill="#333"/>
<line x1="155.25" y1="97.8" x2="155.25" y2="114.00" stroke="#8a8a8a" stroke-width="1.2"/>
<rect x="154.35" y="97.10" width="1.8" height="1.4" fill="#333"/>
<rect x="154.35" y="113.30" width="1.8" height="1.4" fill="#333"/>
<line x1="163.75" y1="97.0" x2="163.75" y2="106.00" stroke="#8a8a8a" stroke-width="1.2"/>
<rect x="162.85" y="96.30" width="1.8" height="1.4" fill="#333"/>
<rect x="162.85" y="105.30" width="1.8" height="1.4" fill="#333"/>
<line x1="172.25" y1="93.9" x2="172.25" y2="106.70" stroke="#8a8a8a" stroke-width="1.2"/>
<rect x="171.35" y="93.20" width="1.8" height="1.4" fill="#333"/>
<rect x="171.35" y="106.00" width="1.8" height="1.4" fill="#333"/>
<line x1="199.5" y1="198" x2="199.5" y2="202.3" stroke="#333" stroke-width="0.9"/>
<text x="198.6" y="210.2" font-size="6.8" text-anchor="middle" font-weight="normal" fill="#000" textLength="16.5" lengthAdjust="spacingAndGlyphs" >day 36</text>
<rect x="182.50" y="60.9" width="8.5" height="137.10" fill="#fff" stroke="#555" stroke-width="0.9"/>
<clipPath id="c10"><rect x="191.00" y="101.20" width="8.50" height="96.80"/></clipPath>
<g clip-path="url(#c10)">
<rect x="191.00" y="101.20" width="8.50" height="96.80" fill="#000"/>
<path d="M190.00 98.35L200.50 87.85M190.00 102.00L200.50 91.50M190.00 105.65L200.50 95.15M190.00 109.30L200.50 98.80M190.00 112.95L200.50 102.45M190.00 116.60L200.50 106.10M190.00 120.25L200.50 109.75M190.00 123.90L200.50 113.40M190.00 127.55L200.50 117.05M190.00 131.20L200.50 120.70M190.00 134.85L200.50 124.35M190.00 138.50L200.50 128.00M190.00 142.15L200.50 131.65M190.00 145.80L200.50 135.30M190.00 149.45L200.50 138.95M190.00 153.10L200.50 142.60M190.00 156.75L200.50 146.25M190.00 160.40L200.50 149.90M190.00 164.05L200.50 153.55M190.00 167.70L200.50 157.20M190.00 171.35L200.50 160.85M190.00 175.00L200.50 164.50M190.00 178.65L200.50 168.15M190.00 182.30L200.50 171.80M190.00 185.95L200.50 175.45M190.00 189.60L200.50 179.10M190.00 193.25L200.50 182.75M190.00 196.90L200.50 186.40M190.00 200.55L200.50 190.05M190.00 204.20L200.50 193.70M190.00 207.85L200.50 197.35" stroke="#fff" stroke-width="1.2" fill="none"/>
</g>
<rect x="191.00" y="101.2" width="8.5" height="96.80" fill="none" stroke="#555" stroke-width="0.9"/>
<clipPath id="c11"><rect x="199.50" y="92.80" width="8.50" height="105.20"/></clipPath>
<g clip-path="url(#c11)">
<rect x="199.50" y="92.80" width="8.50" height="105.20" fill="#fff"/>
<path d="M200.93 196.35h1.4v0.9h-1.4zM204.33 196.35h1.4v0.9h-1.4zM200.93 193.90h1.4v0.9h-1.4zM204.33 193.90h1.4v0.9h-1.4zM200.93 191.45h1.4v0.9h-1.4zM204.33 191.45h1.4v0.9h-1.4zM200.93 189.00h1.4v0.9h-1.4zM204.33 189.00h1.4v0.9h-1.4zM200.93 186.55h1.4v0.9h-1.4zM204.33 186.55h1.4v0.9h-1.4zM200.93 184.10h1.4v0.9h-1.4zM204.33 184.10h1.4v0.9h-1.4zM200.93 181.65h1.4v0.9h-1.4zM204.33 181.65h1.4v0.9h-1.4zM200.93 179.20h1.4v0.9h-1.4zM204.33 179.20h1.4v0.9h-1.4zM200.93 176.75h1.4v0.9h-1.4zM204.33 176.75h1.4v0.9h-1.4zM200.93 174.30h1.4v0.9h-1.4zM204.33 174.30h1.4v0.9h-1.4zM200.93 171.85h1.4v0.9h-1.4zM204.33 171.85h1.4v0.9h-1.4zM200.93 169.40h1.4v0.9h-1.4zM204.33 169.40h1.4v0.9h-1.4zM200.93 166.95h1.4v0.9h-1.4zM204.33 166.95h1.4v0.9h-1.4zM200.93 164.50h1.4v0.9h-1.4zM204.33 164.50h1.4v0.9h-1.4zM200.93 162.05h1.4v0.9h-1.4zM204.33 162.05h1.4v0.9h-1.4zM200.93 159.60h1.4v0.9h-1.4zM204.33 159.60h1.4v0.9h-1.4zM200.93 157.15h1.4v0.9h-1.4zM204.33 157.15h1.4v0.9h-1.4zM200.93 154.70h1.4v0.9h-1.4zM204.33 154.70h1.4v0.9h-1.4zM200.93 152.25h1.4v0.9h-1.4zM204.33 152.25h1.4v0.9h-1.4zM200.93 149.80h1.4v0.9h-1.4zM204.33 149.80h1.4v0.9h-1.4zM200.93 147.35h1.4v0.9h-1.4zM204.33 147.35h1.4v0.9h-1.4zM200.93 144.90h1.4v0.9h-1.4zM204.33 144.90h1.4v0.9h-1.4zM200.93 142.45h1.4v0.9h-1.4zM204.33 142.45h1.4v0.9h-1.4zM200.93 140.00h1.4v0.9h-1.4zM204.33 140.00h1.4v0.9h-1.4zM200.93 137.55h1.4v0.9h-1.4zM204.33 137.55h1.4v0.9h-1.4zM200.93 135.10h1.4v0.9h-1.4zM204.33 135.10h1.4v0.9h-1.4zM200.93 132.65h1.4v0.9h-1.4zM204.33 132.65h1.4v0.9h-1.4zM200.93 130.20h1.4v0.9h-1.4zM204.33 130.20h1.4v0.9h-1.4zM200.93 127.75h1.4v0.9h-1.4zM204.33 127.75h1.4v0.9h-1.4zM200.93 125.30h1.4v0.9h-1.4zM204.33 125.30h1.4v0.9h-1.4zM200.93 122.85h1.4v0.9h-1.4zM204.33 122.85h1.4v0.9h-1.4zM200.93 120.40h1.4v0.9h-1.4zM204.33 120.40h1.4v0.9h-1.4zM200.93 117.95h1.4v0.9h-1.4zM204.33 117.95h1.4v0.9h-1.4zM200.93 115.50h1.4v0.9h-1.4zM204.33 115.50h1.4v0.9h-1.4zM200.93 113.05h1.4v0.9h-1.4zM204.33 113.05h1.4v0.9h-1.4zM200.93 110.60h1.4v0.9h-1.4zM204.33 110.60h1.4v0.9h-1.4zM200.93 108.15h1.4v0.9h-1.4zM204.33 108.15h1.4v0.9h-1.4zM200.93 105.70h1.4v0.9h-1.4zM204.33 105.70h1.4v0.9h-1.4zM200.93 103.25h1.4v0.9h-1.4zM204.33 103.25h1.4v0.9h-1.4zM200.93 100.80h1.4v0.9h-1.4zM204.33 100.80h1.4v0.9h-1.4zM200.93 98.35h1.4v0.9h-1.4zM204.33 98.35h1.4v0.9h-1.4zM200.93 95.90h1.4v0.9h-1.4zM204.33 95.90h1.4v0.9h-1.4zM200.93 93.45h1.4v0.9h-1.4zM204.33 93.45h1.4v0.9h-1.4z" fill="#aaa"/>
</g>
<rect x="199.50" y="92.8" width="8.5" height="105.20" fill="none" stroke="#555" stroke-width="0.9"/>
<clipPath id="c12"><rect x="208.00" y="83.00" width="8.50" height="115.00"/></clipPath>
<g clip-path="url(#c12)">
<rect x="208.00" y="83.00" width="8.50" height="115.00" fill="#fff"/>
<path d="M208.00 195.30h2.125v2.7h-2.125zM212.25 195.30h2.125v2.7h-2.125zM216.50 195.30h2.125v2.7h-2.125zM210.12 192.60h2.125v2.7h-2.125zM214.38 192.60h2.125v2.7h-2.125zM218.62 192.60h2.125v2.7h-2.125zM208.00 189.90h2.125v2.7h-2.125zM212.25 189.90h2.125v2.7h-2.125zM216.50 189.90h2.125v2.7h-2.125zM210.12 187.20h2.125v2.7h-2.125zM214.38 187.20h2.125v2.7h-2.125zM218.62 187.20h2.125v2.7h-2.125zM208.00 184.50h2.125v2.7h-2.125zM212.25 184.50h2.125v2.7h-2.125zM216.50 184.50h2.125v2.7h-2.125zM210.12 181.80h2.125v2.7h-2.125zM214.38 181.80h2.125v2.7h-2.125zM218.62 181.80h2.125v2.7h-2.125zM208.00 179.10h2.125v2.7h-2.125zM212.25 179.10h2.125v2.7h-2.125zM216.50 179.10h2.125v2.7h-2.125zM210.12 176.40h2.125v2.7h-2.125zM214.38 176.40h2.125v2.7h-2.125zM218.62 176.40h2.125v2.7h-2.125zM208.00 173.70h2.125v2.7h-2.125zM212.25 173.70h2.125v2.7h-2.125zM216.50 173.70h2.125v2.7h-2.125zM210.12 171.00h2.125v2.7h-2.125zM214.38 171.00h2.125v2.7h-2.125zM218.62 171.00h2.125v2.7h-2.125zM208.00 168.30h2.125v2.7h-2.125zM212.25 168.30h2.125v2.7h-2.125zM216.50 168.30h2.125v2.7h-2.125zM210.12 165.60h2.125v2.7h-2.125zM214.38 165.60h2.125v2.7h-2.125zM218.62 165.60h2.125v2.7h-2.125zM208.00 162.90h2.125v2.7h-2.125zM212.25 162.90h2.125v2.7h-2.125zM216.50 162.90h2.125v2.7h-2.125zM210.12 160.20h2.125v2.7h-2.125zM214.38 160.20h2.125v2.7h-2.125zM218.62 160.20h2.125v2.7h-2.125zM208.00 157.50h2.125v2.7h-2.125zM212.25 157.50h2.125v2.7h-2.125zM216.50 157.50h2.125v2.7h-2.125zM210.12 154.80h2.125v2.7h-2.125zM214.38 154.80h2.125v2.7h-2.125zM218.62 154.80h2.125v2.7h-2.125zM208.00 152.10h2.125v2.7h-2.125zM212.25 152.10h2.125v2.7h-2.125zM216.50 152.10h2.125v2.7h-2.125zM210.12 149.40h2.125v2.7h-2.125zM214.38 149.40h2.125v2.7h-2.125zM218.62 149.40h2.125v2.7h-2.125zM208.00 146.70h2.125v2.7h-2.125zM212.25 146.70h2.125v2.7h-2.125zM216.50 146.70h2.125v2.7h-2.125zM210.12 144.00h2.125v2.7h-2.125zM214.38 144.00h2.125v2.7h-2.125zM218.62 144.00h2.125v2.7h-2.125zM208.00 141.30h2.125v2.7h-2.125zM212.25 141.30h2.125v2.7h-2.125zM216.50 141.30h2.125v2.7h-2.125zM210.12 138.60h2.125v2.7h-2.125zM214.38 138.60h2.125v2.7h-2.125zM218.62 138.60h2.125v2.7h-2.125zM208.00 135.90h2.125v2.7h-2.125zM212.25 135.90h2.125v2.7h-2.125zM216.50 135.90h2.125v2.7h-2.125zM210.12 133.20h2.125v2.7h-2.125zM214.38 133.20h2.125v2.7h-2.125zM218.62 133.20h2.125v2.7h-2.125zM208.00 130.50h2.125v2.7h-2.125zM212.25 130.50h2.125v2.7h-2.125zM216.50 130.50h2.125v2.7h-2.125zM210.12 127.80h2.125v2.7h-2.125zM214.38 127.80h2.125v2.7h-2.125zM218.62 127.80h2.125v2.7h-2.125zM208.00 125.10h2.125v2.7h-2.125zM212.25 125.10h2.125v2.7h-2.125zM216.50 125.10h2.125v2.7h-2.125zM210.12 122.40h2.125v2.7h-2.125zM214.38 122.40h2.125v2.7h-2.125zM218.62 122.40h2.125v2.7h-2.125zM208.00 119.70h2.125v2.7h-2.125zM212.25 119.70h2.125v2.7h-2.125zM216.50 119.70h2.125v2.7h-2.125zM210.12 117.00h2.125v2.7h-2.125zM214.38 117.00h2.125v2.7h-2.125zM218.62 117.00h2.125v2.7h-2.125zM208.00 114.30h2.125v2.7h-2.125zM212.25 114.30h2.125v2.7h-2.125zM216.50 114.30h2.125v2.7h-2.125zM210.12 111.60h2.125v2.7h-2.125zM214.38 111.60h2.125v2.7h-2.125zM218.62 111.60h2.125v2.7h-2.125zM208.00 108.90h2.125v2.7h-2.125zM212.25 108.90h2.125v2.7h-2.125zM216.50 108.90h2.125v2.7h-2.125zM210.12 106.20h2.125v2.7h-2.125zM214.38 106.20h2.125v2.7h-2.125zM218.62 106.20h2.125v2.7h-2.125zM208.00 103.50h2.125v2.7h-2.125zM212.25 103.50h2.125v2.7h-2.125zM216.50 103.50h2.125v2.7h-2.125zM210.12 100.80h2.125v2.7h-2.125zM214.38 100.80h2.125v2.7h-2.125zM218.62 100.80h2.125v2.7h-2.125zM208.00 98.10h2.125v2.7h-2.125zM212.25 98.10h2.125v2.7h-2.125zM216.50 98.10h2.125v2.7h-2.125zM210.12 95.40h2.125v2.7h-2.125zM214.38 95.40h2.125v2.7h-2.125zM218.62 95.40h2.125v2.7h-2.125zM208.00 92.70h2.125v2.7h-2.125zM212.25 92.70h2.125v2.7h-2.125zM216.50 92.70h2.125v2.7h-2.125zM210.12 90.00h2.125v2.7h-2.125zM214.38 90.00h2.125v2.7h-2.125zM218.62 90.00h2.125v2.7h-2.125zM208.00 87.30h2.125v2.7h-2.125zM212.25 87.30h2.125v2.7h-2.125zM216.50 87.30h2.125v2.7h-2.125zM210.12 84.60h2.125v2.7h-2.125zM214.38 84.60h2.125v2.7h-2.125zM218.62 84.60h2.125v2.7h-2.125zM208.00 81.90h2.125v2.7h-2.125zM212.25 81.90h2.125v2.7h-2.125zM216.50 81.90h2.125v2.7h-2.125z" fill="#000"/>
</g>
<rect x="208.00" y="83.0" width="8.5" height="115.00" fill="none" stroke="#555" stroke-width="0.9"/>
<line x1="186.75" y1="54.1" x2="186.75" y2="67.70" stroke="#8a8a8a" stroke-width="1.2"/>
<rect x="185.85" y="53.40" width="1.8" height="1.4" fill="#333"/>
<rect x="185.85" y="67.00" width="1.8" height="1.4" fill="#333"/>
<line x1="195.25" y1="93.7" x2="195.25" y2="108.70" stroke="#8a8a8a" stroke-width="1.2"/>
<rect x="194.35" y="93.00" width="1.8" height="1.4" fill="#333"/>
<rect x="194.35" y="108.00" width="1.8" height="1.4" fill="#333"/>
<line x1="203.75" y1="85.9" x2="203.75" y2="99.70" stroke="#8a8a8a" stroke-width="1.2"/>
<rect x="202.85" y="85.20" width="1.8" height="1.4" fill="#333"/>
<rect x="202.85" y="99.00" width="1.8" height="1.4" fill="#333"/>
<line x1="212.25" y1="77.8" x2="212.25" y2="88.20" stroke="#8a8a8a" stroke-width="1.2"/>
<rect x="211.35" y="77.10" width="1.8" height="1.4" fill="#333"/>
<rect x="211.35" y="87.50" width="1.8" height="1.4" fill="#333"/>
<line x1="239.5" y1="198" x2="239.5" y2="202.3" stroke="#333" stroke-width="0.9"/>
<text x="238.6" y="210.2" font-size="6.8" text-anchor="middle" font-weight="normal" fill="#000" textLength="16.5" lengthAdjust="spacingAndGlyphs" >day 43</text>
<rect x="222.50" y="63.3" width="8.5" height="134.70" fill="#fff" stroke="#555" stroke-width="0.9"/>
<clipPath id="c13"><rect x="231.00" y="104.80" width="8.50" height="93.20"/></clipPath>
<g clip-path="url(#c13)">
<rect x="231.00" y="104.80" width="8.50" height="93.20" fill="#000"/>
<path d="M230.00 102.15L240.50 91.65M230.00 105.80L240.50 95.30M230.00 109.45L240.50 98.95M230.00 113.10L240.50 102.60M230.00 116.75L240.50 106.25M230.00 120.40L240.50 109.90M230.00 124.05L240.50 113.55M230.00 127.70L240.50 117.20M230.00 131.35L240.50 120.85M230.00 135.00L240.50 124.50M230.00 138.65L240.50 128.15M230.00 142.30L240.50 131.80M230.00 145.95L240.50 135.45M230.00 149.60L240.50 139.10M230.00 153.25L240.50 142.75M230.00 156.90L240.50 146.40M230.00 160.55L240.50 150.05M230.00 164.20L240.50 153.70M230.00 167.85L240.50 157.35M230.00 171.50L240.50 161.00M230.00 175.15L240.50 164.65M230.00 178.80L240.50 168.30M230.00 182.45L240.50 171.95M230.00 186.10L240.50 175.60M230.00 189.75L240.50 179.25M230.00 193.40L240.50 182.90M230.00 197.05L240.50 186.55M230.00 200.70L240.50 190.20M230.00 204.35L240.50 193.85M230.00 208.00L240.50 197.50" stroke="#fff" stroke-width="1.2" fill="none"/>
</g>
<rect x="231.00" y="104.8" width="8.5" height="93.20" fill="none" stroke="#555" stroke-width="0.9"/>
<clipPath id="c14"><rect x="239.50" y="81.70" width="8.50" height="116.30"/></clipPath>
<g clip-path="url(#c14)">
<rect x="239.50" y="81.70" width="8.50" height="116.30" fill="#fff"/>
<path d="M240.93 196.35h1.4v0.9h-1.4zM244.33 196.35h1.4v0.9h-1.4zM240.93 193.90h1.4v0.9h-1.4zM244.33 193.90h1.4v0.9h-1.4zM240.93 191.45h1.4v0.9h-1.4zM244.33 191.45h1.4v0.9h-1.4zM240.93 189.00h1.4v0.9h-1.4zM244.33 189.00h1.4v0.9h-1.4zM240.93 186.55h1.4v0.9h-1.4zM244.33 186.55h1.4v0.9h-1.4zM240.93 184.10h1.4v0.9h-1.4zM244.33 184.10h1.4v0.9h-1.4zM240.93 181.65h1.4v0.9h-1.4zM244.33 181.65h1.4v0.9h-1.4zM240.93 179.20h1.4v0.9h-1.4zM244.33 179.20h1.4v0.9h-1.4zM240.93 176.75h1.4v0.9h-1.4zM244.33 176.75h1.4v0.9h-1.4zM240.93 174.30h1.4v0.9h-1.4zM244.33 174.30h1.4v0.9h-1.4zM240.93 171.85h1.4v0.9h-1.4zM244.33 171.85h1.4v0.9h-1.4zM240.93 169.40h1.4v0.9h-1.4zM244.33 169.40h1.4v0.9h-1.4zM240.93 166.95h1.4v0.9h-1.4zM244.33 166.95h1.4v0.9h-1.4zM240.93 164.50h1.4v0.9h-1.4zM244.33 164.50h1.4v0.9h-1.4zM240.93 162.05h1.4v0.9h-1.4zM244.33 162.05h1.4v0.9h-1.4zM240.93 159.60h1.4v0.9h-1.4zM244.33 159.60h1.4v0.9h-1.4zM240.93 157.15h1.4v0.9h-1.4zM244.33 157.15h1.4v0.9h-1.4zM240.93 154.70h1.4v0.9h-1.4zM244.33 154.70h1.4v0.9h-1.4zM240.93 152.25h1.4v0.9h-1.4zM244.33 152.25h1.4v0.9h-1.4zM240.93 149.80h1.4v0.9h-1.4zM244.33 149.80h1.4v0.9h-1.4zM240.93 147.35h1.4v0.9h-1.4zM244.33 147.35h1.4v0.9h-1.4zM240.93 144.90h1.4v0.9h-1.4zM244.33 144.90h1.4v0.9h-1.4zM240.93 142.45h1.4v0.9h-1.4zM244.33 142.45h1.4v0.9h-1.4zM240.93 140.00h1.4v0.9h-1.4zM244.33 140.00h1.4v0.9h-1.4zM240.93 137.55h1.4v0.9h-1.4zM244.33 137.55h1.4v0.9h-1.4zM240.93 135.10h1.4v0.9h-1.4zM244.33 135.10h1.4v0.9h-1.4zM240.93 132.65h1.4v0.9h-1.4zM244.33 132.65h1.4v0.9h-1.4zM240.93 130.20h1.4v0.9h-1.4zM244.33 130.20h1.4v0.9h-1.4zM240.93 127.75h1.4v0.9h-1.4zM244.33 127.75h1.4v0.9h-1.4zM240.93 125.30h1.4v0.9h-1.4zM244.33 125.30h1.4v0.9h-1.4zM240.93 122.85h1.4v0.9h-1.4zM244.33 122.85h1.4v0.9h-1.4zM240.93 120.40h1.4v0.9h-1.4zM244.33 120.40h1.4v0.9h-1.4zM240.93 117.95h1.4v0.9h-1.4zM244.33 117.95h1.4v0.9h-1.4zM240.93 115.50h1.4v0.9h-1.4zM244.33 115.50h1.4v0.9h-1.4zM240.93 113.05h1.4v0.9h-1.4zM244.33 113.05h1.4v0.9h-1.4zM240.93 110.60h1.4v0.9h-1.4zM244.33 110.60h1.4v0.9h-1.4zM240.93 108.15h1.4v0.9h-1.4zM244.33 108.15h1.4v0.9h-1.4zM240.93 105.70h1.4v0.9h-1.4zM244.33 105.70h1.4v0.9h-1.4zM240.93 103.25h1.4v0.9h-1.4zM244.33 103.25h1.4v0.9h-1.4zM240.93 100.80h1.4v0.9h-1.4zM244.33 100.80h1.4v0.9h-1.4zM240.93 98.35h1.4v0.9h-1.4zM244.33 98.35h1.4v0.9h-1.4zM240.93 95.90h1.4v0.9h-1.4zM244.33 95.90h1.4v0.9h-1.4zM240.93 93.45h1.4v0.9h-1.4zM244.33 93.45h1.4v0.9h-1.4zM240.93 91.00h1.4v0.9h-1.4zM244.33 91.00h1.4v0.9h-1.4zM240.93 88.55h1.4v0.9h-1.4zM244.33 88.55h1.4v0.9h-1.4zM240.93 86.10h1.4v0.9h-1.4zM244.33 86.10h1.4v0.9h-1.4zM240.93 83.65h1.4v0.9h-1.4zM244.33 83.65h1.4v0.9h-1.4zM240.93 81.20h1.4v0.9h-1.4zM244.33 81.20h1.4v0.9h-1.4z" fill="#aaa"/>
</g>
<rect x="239.50" y="81.7" width="8.5" height="116.30" fill="none" stroke="#555" stroke-width="0.9"/>
<clipPath id="c15"><rect x="248.00" y="64.40" width="8.50" height="133.60"/></clipPath>
<g clip-path="url(#c15)">
<rect x="248.00" y="64.40" width="8.50" height="133.60" fill="#fff"/>
<path d="M248.00 195.30h2.125v2.7h-2.125zM252.25 195.30h2.125v2.7h-2.125zM256.50 195.30h2.125v2.7h-2.125zM250.12 192.60h2.125v2.7h-2.125zM254.38 192.60h2.125v2.7h-2.125zM258.62 192.60h2.125v2.7h-2.125zM248.00 189.90h2.125v2.7h-2.125zM252.25 189.90h2.125v2.7h-2.125zM256.50 189.90h2.125v2.7h-2.125zM250.12 187.20h2.125v2.7h-2.125zM254.38 187.20h2.125v2.7h-2.125zM258.62 187.20h2.125v2.7h-2.125zM248.00 184.50h2.125v2.7h-2.125zM252.25 184.50h2.125v2.7h-2.125zM256.50 184.50h2.125v2.7h-2.125zM250.12 181.80h2.125v2.7h-2.125zM254.38 181.80h2.125v2.7h-2.125zM258.62 181.80h2.125v2.7h-2.125zM248.00 179.10h2.125v2.7h-2.125zM252.25 179.10h2.125v2.7h-2.125zM256.50 179.10h2.125v2.7h-2.125zM250.12 176.40h2.125v2.7h-2.125zM254.38 176.40h2.125v2.7h-2.125zM258.62 176.40h2.125v2.7h-2.125zM248.00 173.70h2.125v2.7h-2.125zM252.25 173.70h2.125v2.7h-2.125zM256.50 173.70h2.125v2.7h-2.125zM250.12 171.00h2.125v2.7h-2.125zM254.38 171.00h2.125v2.7h-2.125zM258.62 171.00h2.125v2.7h-2.125zM248.00 168.30h2.125v2.7h-2.125zM252.25 168.30h2.125v2.7h-2.125zM256.50 168.30h2.125v2.7h-2.125zM250.12 165.60h2.125v2.7h-2.125zM254.38 165.60h2.125v2.7h-2.125zM258.62 165.60h2.125v2.7h-2.125zM248.00 162.90h2.125v2.7h-2.125zM252.25 162.90h2.125v2.7h-2.125zM256.50 162.90h2.125v2.7h-2.125zM250.12 160.20h2.125v2.7h-2.125zM254.38 160.20h2.125v2.7h-2.125zM258.62 160.20h2.125v2.7h-2.125zM248.00 157.50h2.125v2.7h-2.125zM252.25 157.50h2.125v2.7h-2.125zM256.50 157.50h2.125v2.7h-2.125zM250.12 154.80h2.125v2.7h-2.125zM254.38 154.80h2.125v2.7h-2.125zM258.62 154.80h2.125v2.7h-2.125zM248.00 152.10h2.125v2.7h-2.125zM252.25 152.10h2.125v2.7h-2.125zM256.50 152.10h2.125v2.7h-2.125zM250.12 149.40h2.125v2.7h-2.125zM254.38 149.40h2.125v2.7h-2.125zM258.62 149.40h2.125v2.7h-2.125zM248.00 146.70h2.125v2.7h-2.125zM252.25 146.70h2.125v2.7h-2.125zM256.50 146.70h2.125v2.7h-2.125zM250.12 144.00h2.125v2.7h-2.125zM254.38 144.00h2.125v2.7h-2.125zM258.62 144.00h2.125v2.7h-2.125zM248.00 141.30h2.125v2.7h-2.125zM252.25 141.30h2.125v2.7h-2.125zM256.50 141.30h2.125v2.7h-2.125zM250.12 138.60h2.125v2.7h-2.125zM254.38 138.60h2.125v2.7h-2.125zM258.62 138.60h2.125v2.7h-2.125zM248.00 135.90h2.125v2.7h-2.125zM252.25 135.90h2.125v2.7h-2.125zM256.50 135.90h2.125v2.7h-2.125zM250.12 133.20h2.125v2.7h-2.125zM254.38 133.20h2.125v2.7h-2.125zM258.62 133.20h2.125v2.7h-2.125zM248.00 130.50h2.125v2.7h-2.125zM252.25 130.50h2.125v2.7h-2.125zM256.50 130.50h2.125v2.7h-2.125zM250.12 127.80h2.125v2.7h-2.125zM254.38 127.80h2.125v2.7h-2.125zM258.62 127.80h2.125v2.7h-2.125zM248.00 125.10h2.125v2.7h-2.125zM252.25 125.10h2.125v2.7h-2.125zM256.50 125.10h2.125v2.7h-2.125zM250.12 122.40h2.125v2.7h-2.125zM254.38 122.40h2.125v2.7h-2.125zM258.62 122.40h2.125v2.7h-2.125zM248.00 119.70h2.125v2.7h-2.125zM252.25 119.70h2.125v2.7h-2.125zM256.50 119.70h2.125v2.7h-2.125zM250.12 117.00h2.125v2.7h-2.125zM254.38 117.00h2.125v2.7h-2.125zM258.62 117.00h2.125v2.7h-2.125zM248.00 114.30h2.125v2.7h-2.125zM252.25 114.30h2.125v2.7h-2.125zM256.50 114.30h2.125v2.7h-2.125zM250.12 111.60h2.125v2.7h-2.125zM254.38 111.60h2.125v2.7h-2.125zM258.62 111.60h2.125v2.7h-2.125zM248.00 108.90h2.125v2.7h-2.125zM252.25 108.90h2.125v2.7h-2.125zM256.50 108.90h2.125v2.7h-2.125zM250.12 106.20h2.125v2.7h-2.125zM254.38 106.20h2.125v2.7h-2.125zM258.62 106.20h2.125v2.7h-2.125zM248.00 103.50h2.125v2.7h-2.125zM252.25 103.50h2.125v2.7h-2.125zM256.50 103.50h2.125v2.7h-2.125zM250.12 100.80h2.125v2.7h-2.125zM254.38 100.80h2.125v2.7h-2.125zM258.62 100.80h2.125v2.7h-2.125zM248.00 98.10h2.125v2.7h-2.125zM252.25 98.10h2.125v2.7h-2.125zM256.50 98.10h2.125v2.7h-2.125zM250.12 95.40h2.125v2.7h-2.125zM254.38 95.40h2.125v2.7h-2.125zM258.62 95.40h2.125v2.7h-2.125zM248.00 92.70h2.125v2.7h-2.125zM252.25 92.70h2.125v2.7h-2.125zM256.50 92.70h2.125v2.7h-2.125zM250.12 90.00h2.125v2.7h-2.125zM254.38 90.00h2.125v2.7h-2.125zM258.62 90.00h2.125v2.7h-2.125zM248.00 87.30h2.125v2.7h-2.125zM252.25 87.30h2.125v2.7h-2.125zM256.50 87.30h2.125v2.7h-2.125zM250.12 84.60h2.125v2.7h-2.125zM254.38 84.60h2.125v2.7h-2.125zM258.62 84.60h2.125v2.7h-2.125zM248.00 81.90h2.125v2.7h-2.125zM252.25 81.90h2.125v2.7h-2.125zM256.50 81.90h2.125v2.7h-2.125zM250.12 79.20h2.125v2.7h-2.125zM254.38 79.20h2.125v2.7h-2.125zM258.62 79.20h2.125v2.7h-2.125zM248.00 76.50h2.125v2.7h-2.125zM252.25 76.50h2.125v2.7h-2.125zM256.50 76.50h2.125v2.7h-2.125zM250.12 73.80h2.125v2.7h-2.125zM254.38 73.80h2.125v2.7h-2.125zM258.62 73.80h2.125v2.7h-2.125zM248.00 71.10h2.125v2.7h-2.125zM252.25 71.10h2.125v2.7h-2.125zM256.50 71.10h2.125v2.7h-2.125zM250.12 68.40h2.125v2.7h-2.125zM254.38 68.40h2.125v2.7h-2.125zM258.62 68.40h2.125v2.7h-2.125zM248.00 65.70h2.125v2.7h-2.125zM252.25 65.70h2.125v2.7h-2.125zM256.50 65.70h2.125v2.7h-2.125zM250.12 63.00h2.125v2.7h-2.125zM254.38 63.00h2.125v2.7h-2.125zM258.62 63.00h2.125v2.7h-2.125z" fill="#000"/>
</g>
<rect x="248.00" y="64.4" width="8.5" height="133.60" fill="none" stroke="#555" stroke-width="0.9"/>
<line x1="226.75" y1="56.5" x2="226.75" y2="70.10" stroke="#8a8a8a" stroke-width="1.2"/>
<rect x="225.85" y="55.80" width="1.8" height="1.4" fill="#333"/>
<rect x="225.85" y="69.40" width="1.8" height="1.4" fill="#333"/>
<line x1="235.25" y1="98.9" x2="235.25" y2="110.70" stroke="#8a8a8a" stroke-width="1.2"/>
<rect x="234.35" y="98.20" width="1.8" height="1.4" fill="#333"/>
<rect x="234.35" y="110.00" width="1.8" height="1.4" fill="#333"/>
<line x1="243.75" y1="68.9" x2="243.75" y2="94.50" stroke="#8a8a8a" stroke-width="1.2"/>
<rect x="242.85" y="68.20" width="1.8" height="1.4" fill="#333"/>
<rect x="242.85" y="93.80" width="1.8" height="1.4" fill="#333"/>
<line x1="252.25" y1="58.1" x2="252.25" y2="70.70" stroke="#8a8a8a" stroke-width="1.2"/>
<rect x="251.35" y="57.40" width="1.8" height="1.4" fill="#333"/>
<rect x="251.35" y="70.00" width="1.8" height="1.4" fill="#333"/>
<text x="115.15" y="103.06" font-size="8" font-weight="normal" text-anchor="middle" fill="#111" style="stroke:#111;stroke-width:0.35px" textLength="5.86" lengthAdjust="spacingAndGlyphs">**</text>
<text x="123.65" y="105.86" font-size="8" font-weight="normal" text-anchor="middle" fill="#111" style="stroke:#111;stroke-width:0.35px" textLength="5.86" lengthAdjust="spacingAndGlyphs">**</text>
<text x="132.15" y="108.36" font-size="8" font-weight="normal" text-anchor="middle" fill="#111" style="stroke:#111;stroke-width:0.35px" textLength="5.86" lengthAdjust="spacingAndGlyphs">**</text>
<text x="155.25" y="97.16" font-size="8" font-weight="normal" text-anchor="middle" fill="#111" style="stroke:#111;stroke-width:0.35px" textLength="5.86" lengthAdjust="spacingAndGlyphs">**</text>
<text x="163.75" y="96.26" font-size="8" font-weight="normal" text-anchor="middle" fill="#111" style="stroke:#111;stroke-width:0.35px" textLength="5.54" lengthAdjust="spacingAndGlyphs">**</text>
<text x="172.25" y="90.56" font-size="8" font-weight="normal" text-anchor="middle" fill="#111" style="stroke:#111;stroke-width:0.35px" textLength="5.86" lengthAdjust="spacingAndGlyphs">**</text>
<text x="195.25" y="93.26" font-size="8" font-weight="normal" text-anchor="middle" fill="#111" style="stroke:#111;stroke-width:0.35px" textLength="5.86" lengthAdjust="spacingAndGlyphs">**</text>
<text x="203.75" y="85.36" font-size="8" font-weight="normal" text-anchor="middle" fill="#111" style="stroke:#111;stroke-width:0.35px" textLength="5.86" lengthAdjust="spacingAndGlyphs">**</text>
<text x="212.25" y="78.76" font-size="8" font-weight="normal" text-anchor="middle" fill="#111" style="stroke:#111;stroke-width:0.35px" textLength="5.97" lengthAdjust="spacingAndGlyphs">**</text>
<text x="212.25" y="69.95" font-size="10" font-weight="normal" text-anchor="middle" fill="#111" style="stroke:#111;stroke-width:0.35px" textLength="7.78" lengthAdjust="spacingAndGlyphs">##</text>
<text x="235.25" y="99.56" font-size="8" font-weight="normal" text-anchor="middle" fill="#111" style="stroke:#111;stroke-width:0.35px" textLength="5.76" lengthAdjust="spacingAndGlyphs">**</text>
<text x="243.75" y="66.60" font-size="5.5" font-weight="normal" text-anchor="middle" fill="#555" style="stroke:#555;stroke-width:0.35px" textLength="4.45" lengthAdjust="spacingAndGlyphs">##</text>
<text x="243.75" y="61.60" font-size="5.5" font-weight="normal" text-anchor="middle" fill="#555" style="stroke:#555;stroke-width:0.35px" textLength="4.94" lengthAdjust="spacingAndGlyphs">&amp;&amp;</text>
<text x="252.25" y="52.81" font-size="6.4" font-weight="normal" text-anchor="middle" fill="#111" style="stroke:#111;stroke-width:0.35px" textLength="5.05" lengthAdjust="spacingAndGlyphs">##</text>
<rect x="262" y="31.30" width="5.4" height="6.4" fill="#fff" stroke="#333" stroke-width="0.8"/>
<text x="268.4" y="38.1" font-size="6.6" text-anchor="start" font-weight="normal" fill="#000" textLength="33.3" lengthAdjust="spacingAndGlyphs" style="stroke-width:0.08px">control group</text>
<rect x="262" y="40.30" width="5.4" height="6.4" fill="url(#stA)" stroke="#333" stroke-width="0.8"/>
<text x="268.4" y="46.9" font-size="6.6" text-anchor="start" font-weight="normal" fill="#000" textLength="59.6" lengthAdjust="spacingAndGlyphs" style="stroke-width:0.08px">0mg venlafaxine+CUMS</text>
<rect x="262" y="49.10" width="5.4" height="6.4" fill="url(#dtA)" stroke="#333" stroke-width="0.8"/>
<text x="268.4" y="55.8" font-size="6.6" text-anchor="start" font-weight="normal" fill="#000" textLength="59.2" lengthAdjust="spacingAndGlyphs" style="stroke-width:0.08px">5mg venlafaxine+CUMS</text>
<rect x="262" y="58.30" width="5.4" height="6.4" fill="url(#ckA)" stroke="#333" stroke-width="0.8"/>
<text x="268.4" y="64.8" font-size="6.6" text-anchor="start" font-weight="normal" fill="#000" textLength="62.6" lengthAdjust="spacingAndGlyphs" style="stroke-width:0.08px">10mg venlafaxine+CUMS</text>
<text x="169.5" y="231.7" font-size="9.3" text-anchor="middle" font-weight="normal" fill="#000" textLength="57.6" lengthAdjust="spacingAndGlyphs" >The time point(day)</text>
<text transform="translate(22.2,172.4) rotate(-90)" font-size="9.9" textLength="141" lengthAdjust="spacingAndGlyphs">Distance of horizontal motion(m)</text>
<text x="10.3" y="15.7" font-size="20" text-anchor="start" font-weight="bold" fill="#000" textLength="9.8" lengthAdjust="spacingAndGlyphs" >a</text>
<line x1="38.5" y1="259.7" x2="38.5" y2="446.6" stroke="#707070" stroke-width="1"/>
<line x1="38.0" y1="446.6" x2="273.6" y2="446.6" stroke="#606060" stroke-width="1"/>
<line x1="34.5" y1="270.1" x2="38.5" y2="270.1" stroke="#333" stroke-width="1"/>
<text x="33.9" y="272.90000000000003" font-size="7.8" text-anchor="end" font-weight="normal" fill="#000" textLength="17.5" lengthAdjust="spacingAndGlyphs" class="tl">25.000</text>
<line x1="34.5" y1="305.4" x2="38.5" y2="305.4" stroke="#333" stroke-width="1"/>
<text x="33.9" y="308.2" font-size="7.8" text-anchor="end" font-weight="normal" fill="#000" textLength="18.2" lengthAdjust="spacingAndGlyphs" class="tl">20.000</text>
<line x1="34.5" y1="340.7" x2="38.5" y2="340.7" stroke="#333" stroke-width="1"/>
<text x="33.9" y="343.5" font-size="7.8" text-anchor="end" font-weight="normal" fill="#000" textLength="18.2" lengthAdjust="spacingAndGlyphs" class="tl">15.000</text>
<line x1="34.5" y1="376" x2="38.5" y2="376" stroke="#333" stroke-width="1"/>
<text x="33.9" y="378.8" font-size="7.8" text-anchor="end" font-weight="normal" fill="#000" textLength="18.2" lengthAdjust="spacingAndGlyphs" class="tl">10.000</text>
<line x1="34.5" y1="411.3" x2="38.5" y2="411.3" stroke="#333" stroke-width="1"/>
<text x="33.9" y="414.1" font-size="7.8" text-anchor="end" font-weight="normal" fill="#000" textLength="14" lengthAdjust="spacingAndGlyphs" class="tl">5.000</text>
<line x1="34.5" y1="446.6" x2="38.5" y2="446.6" stroke="#333" stroke-width="1"/>
<text x="33.9" y="449.40000000000003" font-size="7.8" text-anchor="end" font-weight="normal" fill="#000" textLength="11" lengthAdjust="spacingAndGlyphs" class="tl">.000</text>
<line x1="68.4" y1="446.6" x2="68.4" y2="450.40000000000003" stroke="#333" stroke-width="0.9"/>
<text x="67.9" y="456.5" font-size="7" text-anchor="middle" font-weight="normal" fill="#000" textLength="14.4" lengthAdjust="spacingAndGlyphs" >day 1</text>
<rect x="50.20" y="314.40000000000003" width="9.1" height="132.20" fill="#fff" stroke="#444" stroke-width="0.9"/>
<clipPath id="c16"><rect x="59.30" y="310.30" width="9.10" height="136.30"/></clipPath>
<g clip-path="url(#c16)">
<rect x="59.30" y="310.30" width="9.10" height="136.30" fill="#000"/>
<path d="M58.30 305.30L69.40 294.20M58.30 308.90L69.40 297.80M58.30 312.50L69.40 301.40M58.30 316.10L69.40 305.00M58.30 319.70L69.40 308.60M58.30 323.30L69.40 312.20M58.30 326.90L69.40 315.80M58.30 330.50L69.40 319.40M58.30 334.10L69.40 323.00M58.30 337.70L69.40 326.60M58.30 341.30L69.40 330.20M58.30 344.90L69.40 333.80M58.30 348.50L69.40 337.40M58.30 352.10L69.40 341.00M58.30 355.70L69.40 344.60M58.30 359.30L69.40 348.20M58.30 362.90L69.40 351.80M58.30 366.50L69.40 355.40M58.30 370.10L69.40 359.00M58.30 373.70L69.40 362.60M58.30 377.30L69.40 366.20M58.30 380.90L69.40 369.80M58.30 384.50L69.40 373.40M58.30 388.10L69.40 377.00M58.30 391.70L69.40 380.60M58.30 395.30L69.40 384.20M58.30 398.90L69.40 387.80M58.30 402.50L69.40 391.40M58.30 406.10L69.40 395.00M58.30 409.70L69.40 398.60M58.30 413.30L69.40 402.20M58.30 416.90L69.40 405.80M58.30 420.50L69.40 409.40M58.30 424.10L69.40 413.00M58.30 427.70L69.40 416.60M58.30 431.30L69.40 420.20M58.30 434.90L69.40 423.80M58.30 438.50L69.40 427.40M58.30 442.10L69.40 431.00M58.30 445.70L69.40 434.60M58.30 449.30L69.40 438.20M58.30 452.90L69.40 441.80M58.30 456.50L69.40 445.40M58.30 460.10L69.40 449.00" stroke="#fff" stroke-width="1.2" fill="none"/>
</g>
<rect x="59.30" y="310.3" width="9.1" height="136.30" fill="none" stroke="#444" stroke-width="0.9"/>
<clipPath id="c17"><rect x="68.40" y="304.00" width="9.10" height="142.60"/></clipPath>
<g clip-path="url(#c17)">
<rect x="68.40" y="304.00" width="9.10" height="142.60" fill="#fff"/>
<path d="M69.98 444.80h1.4v0.9h-1.4zM73.62 444.80h1.4v0.9h-1.4zM69.98 442.20h1.4v0.9h-1.4zM73.62 442.20h1.4v0.9h-1.4zM69.98 439.60h1.4v0.9h-1.4zM73.62 439.60h1.4v0.9h-1.4zM69.98 437.00h1.4v0.9h-1.4zM73.62 437.00h1.4v0.9h-1.4zM69.98 434.40h1.4v0.9h-1.4zM73.62 434.40h1.4v0.9h-1.4zM69.98 431.80h1.4v0.9h-1.4zM73.62 431.80h1.4v0.9h-1.4zM69.98 429.20h1.4v0.9h-1.4zM73.62 429.20h1.4v0.9h-1.4zM69.98 426.60h1.4v0.9h-1.4zM73.62 426.60h1.4v0.9h-1.4zM69.98 424.00h1.4v0.9h-1.4zM73.62 424.00h1.4v0.9h-1.4zM69.98 421.40h1.4v0.9h-1.4zM73.62 421.40h1.4v0.9h-1.4zM69.98 418.80h1.4v0.9h-1.4zM73.62 418.80h1.4v0.9h-1.4zM69.98 416.20h1.4v0.9h-1.4zM73.62 416.20h1.4v0.9h-1.4zM69.98 413.60h1.4v0.9h-1.4zM73.62 413.60h1.4v0.9h-1.4zM69.98 411.00h1.4v0.9h-1.4zM73.62 411.00h1.4v0.9h-1.4zM69.98 408.40h1.4v0.9h-1.4zM73.62 408.40h1.4v0.9h-1.4zM69.98 405.80h1.4v0.9h-1.4zM73.62 405.80h1.4v0.9h-1.4zM69.98 403.20h1.4v0.9h-1.4zM73.62 403.20h1.4v0.9h-1.4zM69.98 400.60h1.4v0.9h-1.4zM73.62 400.60h1.4v0.9h-1.4zM69.98 398.00h1.4v0.9h-1.4zM73.62 398.00h1.4v0.9h-1.4zM69.98 395.40h1.4v0.9h-1.4zM73.62 395.40h1.4v0.9h-1.4zM69.98 392.80h1.4v0.9h-1.4zM73.62 392.80h1.4v0.9h-1.4zM69.98 390.20h1.4v0.9h-1.4zM73.62 390.20h1.4v0.9h-1.4zM69.98 387.60h1.4v0.9h-1.4zM73.62 387.60h1.4v0.9h-1.4zM69.98 385.00h1.4v0.9h-1.4zM73.62 385.00h1.4v0.9h-1.4zM69.98 382.40h1.4v0.9h-1.4zM73.62 382.40h1.4v0.9h-1.4zM69.98 379.80h1.4v0.9h-1.4zM73.62 379.80h1.4v0.9h-1.4zM69.98 377.20h1.4v0.9h-1.4zM73.62 377.20h1.4v0.9h-1.4zM69.98 374.60h1.4v0.9h-1.4zM73.62 374.60h1.4v0.9h-1.4zM69.98 372.00h1.4v0.9h-1.4zM73.62 372.00h1.4v0.9h-1.4zM69.98 369.40h1.4v0.9h-1.4zM73.62 369.40h1.4v0.9h-1.4zM69.98 366.80h1.4v0.9h-1.4zM73.62 366.80h1.4v0.9h-1.4zM69.98 364.20h1.4v0.9h-1.4zM73.62 364.20h1.4v0.9h-1.4zM69.98 361.60h1.4v0.9h-1.4zM73.62 361.60h1.4v0.9h-1.4zM69.98 359.00h1.4v0.9h-1.4zM73.62 359.00h1.4v0.9h-1.4zM69.98 356.40h1.4v0.9h-1.4zM73.62 356.40h1.4v0.9h-1.4zM69.98 353.80h1.4v0.9h-1.4zM73.62 353.80h1.4v0.9h-1.4zM69.98 351.20h1.4v0.9h-1.4zM73.62 351.20h1.4v0.9h-1.4zM69.98 348.60h1.4v0.9h-1.4zM73.62 348.60h1.4v0.9h-1.4zM69.98 346.00h1.4v0.9h-1.4zM73.62 346.00h1.4v0.9h-1.4zM69.98 343.40h1.4v0.9h-1.4zM73.62 343.40h1.4v0.9h-1.4zM69.98 340.80h1.4v0.9h-1.4zM73.62 340.80h1.4v0.9h-1.4zM69.98 338.20h1.4v0.9h-1.4zM73.62 338.20h1.4v0.9h-1.4zM69.98 335.60h1.4v0.9h-1.4zM73.62 335.60h1.4v0.9h-1.4zM69.98 333.00h1.4v0.9h-1.4zM73.62 333.00h1.4v0.9h-1.4zM69.98 330.40h1.4v0.9h-1.4zM73.62 330.40h1.4v0.9h-1.4zM69.98 327.80h1.4v0.9h-1.4zM73.62 327.80h1.4v0.9h-1.4zM69.98 325.20h1.4v0.9h-1.4zM73.62 325.20h1.4v0.9h-1.4zM69.98 322.60h1.4v0.9h-1.4zM73.62 322.60h1.4v0.9h-1.4zM69.98 320.00h1.4v0.9h-1.4zM73.62 320.00h1.4v0.9h-1.4zM69.98 317.40h1.4v0.9h-1.4zM73.62 317.40h1.4v0.9h-1.4zM69.98 314.80h1.4v0.9h-1.4zM73.62 314.80h1.4v0.9h-1.4zM69.98 312.20h1.4v0.9h-1.4zM73.62 312.20h1.4v0.9h-1.4zM69.98 309.60h1.4v0.9h-1.4zM73.62 309.60h1.4v0.9h-1.4zM69.98 307.00h1.4v0.9h-1.4zM73.62 307.00h1.4v0.9h-1.4zM69.98 304.40h1.4v0.9h-1.4zM73.62 304.40h1.4v0.9h-1.4z" fill="#aaa"/>
</g>
<rect x="68.40" y="304.0" width="9.1" height="142.60" fill="none" stroke="#444" stroke-width="0.9"/>
<clipPath id="c18"><rect x="77.50" y="317.90" width="9.10" height="128.70"/></clipPath>
<g clip-path="url(#c18)">
<rect x="77.50" y="317.90" width="9.10" height="128.70" fill="#fff"/>
<path d="M77.50 444.30h2.275v2.3h-2.275zM82.05 444.30h2.275v2.3h-2.275zM86.60 444.30h2.275v2.3h-2.275zM79.78 442.00h2.275v2.3h-2.275zM84.33 442.00h2.275v2.3h-2.275zM88.88 442.00h2.275v2.3h-2.275zM77.50 439.70h2.275v2.3h-2.275zM82.05 439.70h2.275v2.3h-2.275zM86.60 439.70h2.275v2.3h-2.275zM79.78 437.40h2.275v2.3h-2.275zM84.33 437.40h2.275v2.3h-2.275zM88.88 437.40h2.275v2.3h-2.275zM77.50 435.10h2.275v2.3h-2.275zM82.05 435.10h2.275v2.3h-2.275zM86.60 435.10h2.275v2.3h-2.275zM79.78 432.80h2.275v2.3h-2.275zM84.33 432.80h2.275v2.3h-2.275zM88.88 432.80h2.275v2.3h-2.275zM77.50 430.50h2.275v2.3h-2.275zM82.05 430.50h2.275v2.3h-2.275zM86.60 430.50h2.275v2.3h-2.275zM79.78 428.20h2.275v2.3h-2.275zM84.33 428.20h2.275v2.3h-2.275zM88.88 428.20h2.275v2.3h-2.275zM77.50 425.90h2.275v2.3h-2.275zM82.05 425.90h2.275v2.3h-2.275zM86.60 425.90h2.275v2.3h-2.275zM79.78 423.60h2.275v2.3h-2.275zM84.33 423.60h2.275v2.3h-2.275zM88.88 423.60h2.275v2.3h-2.275zM77.50 421.30h2.275v2.3h-2.275zM82.05 421.30h2.275v2.3h-2.275zM86.60 421.30h2.275v2.3h-2.275zM79.78 419.00h2.275v2.3h-2.275zM84.33 419.00h2.275v2.3h-2.275zM88.88 419.00h2.275v2.3h-2.275zM77.50 416.70h2.275v2.3h-2.275zM82.05 416.70h2.275v2.3h-2.275zM86.60 416.70h2.275v2.3h-2.275zM79.78 414.40h2.275v2.3h-2.275zM84.33 414.40h2.275v2.3h-2.275zM88.88 414.40h2.275v2.3h-2.275zM77.50 412.10h2.275v2.3h-2.275zM82.05 412.10h2.275v2.3h-2.275zM86.60 412.10h2.275v2.3h-2.275zM79.78 409.80h2.275v2.3h-2.275zM84.33 409.80h2.275v2.3h-2.275zM88.88 409.80h2.275v2.3h-2.275zM77.50 407.50h2.275v2.3h-2.275zM82.05 407.50h2.275v2.3h-2.275zM86.60 407.50h2.275v2.3h-2.275zM79.78 405.20h2.275v2.3h-2.275zM84.33 405.20h2.275v2.3h-2.275zM88.88 405.20h2.275v2.3h-2.275zM77.50 402.90h2.275v2.3h-2.275zM82.05 402.90h2.275v2.3h-2.275zM86.60 402.90h2.275v2.3h-2.275zM79.78 400.60h2.275v2.3h-2.275zM84.33 400.60h2.275v2.3h-2.275zM88.88 400.60h2.275v2.3h-2.275zM77.50 398.30h2.275v2.3h-2.275zM82.05 398.30h2.275v2.3h-2.275zM86.60 398.30h2.275v2.3h-2.275zM79.78 396.00h2.275v2.3h-2.275zM84.33 396.00h2.275v2.3h-2.275zM88.88 396.00h2.275v2.3h-2.275zM77.50 393.70h2.275v2.3h-2.275zM82.05 393.70h2.275v2.3h-2.275zM86.60 393.70h2.275v2.3h-2.275zM79.78 391.40h2.275v2.3h-2.275zM84.33 391.40h2.275v2.3h-2.275zM88.88 391.40h2.275v2.3h-2.275zM77.50 389.10h2.275v2.3h-2.275zM82.05 389.10h2.275v2.3h-2.275zM86.60 389.10h2.275v2.3h-2.275zM79.78 386.80h2.275v2.3h-2.275zM84.33 386.80h2.275v2.3h-2.275zM88.88 386.80h2.275v2.3h-2.275zM77.50 384.50h2.275v2.3h-2.275zM82.05 384.50h2.275v2.3h-2.275zM86.60 384.50h2.275v2.3h-2.275zM79.78 382.20h2.275v2.3h-2.275zM84.33 382.20h2.275v2.3h-2.275zM88.88 382.20h2.275v2.3h-2.275zM77.50 379.90h2.275v2.3h-2.275zM82.05 379.90h2.275v2.3h-2.275zM86.60 379.90h2.275v2.3h-2.275zM79.78 377.60h2.275v2.3h-2.275zM84.33 377.60h2.275v2.3h-2.275zM88.88 377.60h2.275v2.3h-2.275zM77.50 375.30h2.275v2.3h-2.275zM82.05 375.30h2.275v2.3h-2.275zM86.60 375.30h2.275v2.3h-2.275zM79.78 373.00h2.275v2.3h-2.275zM84.33 373.00h2.275v2.3h-2.275zM88.88 373.00h2.275v2.3h-2.275zM77.50 370.70h2.275v2.3h-2.275zM82.05 370.70h2.275v2.3h-2.275zM86.60 370.70h2.275v2.3h-2.275zM79.78 368.40h2.275v2.3h-2.275zM84.33 368.40h2.275v2.3h-2.275zM88.88 368.40h2.275v2.3h-2.275zM77.50 366.10h2.275v2.3h-2.275zM82.05 366.10h2.275v2.3h-2.275zM86.60 366.10h2.275v2.3h-2.275zM79.78 363.80h2.275v2.3h-2.275zM84.33 363.80h2.275v2.3h-2.275zM88.88 363.80h2.275v2.3h-2.275zM77.50 361.50h2.275v2.3h-2.275zM82.05 361.50h2.275v2.3h-2.275zM86.60 361.50h2.275v2.3h-2.275zM79.78 359.20h2.275v2.3h-2.275zM84.33 359.20h2.275v2.3h-2.275zM88.88 359.20h2.275v2.3h-2.275zM77.50 356.90h2.275v2.3h-2.275zM82.05 356.90h2.275v2.3h-2.275zM86.60 356.90h2.275v2.3h-2.275zM79.78 354.60h2.275v2.3h-2.275zM84.33 354.60h2.275v2.3h-2.275zM88.88 354.60h2.275v2.3h-2.275zM77.50 352.30h2.275v2.3h-2.275zM82.05 352.30h2.275v2.3h-2.275zM86.60 352.30h2.275v2.3h-2.275zM79.78 350.00h2.275v2.3h-2.275zM84.33 350.00h2.275v2.3h-2.275zM88.88 350.00h2.275v2.3h-2.275zM77.50 347.70h2.275v2.3h-2.275zM82.05 347.70h2.275v2.3h-2.275zM86.60 347.70h2.275v2.3h-2.275zM79.78 345.40h2.275v2.3h-2.275zM84.33 345.40h2.275v2.3h-2.275zM88.88 345.40h2.275v2.3h-2.275zM77.50 343.10h2.275v2.3h-2.275zM82.05 343.10h2.275v2.3h-2.275zM86.60 343.10h2.275v2.3h-2.275zM79.78 340.80h2.275v2.3h-2.275zM84.33 340.80h2.275v2.3h-2.275zM88.88 340.80h2.275v2.3h-2.275zM77.50 338.50h2.275v2.3h-2.275zM82.05 338.50h2.275v2.3h-2.275zM86.60 338.50h2.275v2.3h-2.275zM79.78 336.20h2.275v2.3h-2.275zM84.33 336.20h2.275v2.3h-2.275zM88.88 336.20h2.275v2.3h-2.275zM77.50 333.90h2.275v2.3h-2.275zM82.05 333.90h2.275v2.3h-2.275zM86.60 333.90h2.275v2.3h-2.275zM79.78 331.60h2.275v2.3h-2.275zM84.33 331.60h2.275v2.3h-2.275zM88.88 331.60h2.275v2.3h-2.275zM77.50 329.30h2.275v2.3h-2.275zM82.05 329.30h2.275v2.3h-2.275zM86.60 329.30h2.275v2.3h-2.275zM79.78 327.00h2.275v2.3h-2.275zM84.33 327.00h2.275v2.3h-2.275zM88.88 327.00h2.275v2.3h-2.275zM77.50 324.70h2.275v2.3h-2.275zM82.05 324.70h2.275v2.3h-2.275zM86.60 324.70h2.275v2.3h-2.275zM79.78 322.40h2.275v2.3h-2.275zM84.33 322.40h2.275v2.3h-2.275zM88.88 322.40h2.275v2.3h-2.275zM77.50 320.10h2.275v2.3h-2.275zM82.05 320.10h2.275v2.3h-2.275zM86.60 320.10h2.275v2.3h-2.275zM79.78 317.80h2.275v2.3h-2.275zM84.33 317.80h2.275v2.3h-2.275zM88.88 317.80h2.275v2.3h-2.275z" fill="#000"/>
</g>
<rect x="77.50" y="317.90000000000003" width="9.1" height="128.70" fill="none" stroke="#444" stroke-width="0.9"/>
<line x1="54.75" y1="299.5" x2="54.75" y2="329.30" stroke="#808080" stroke-width="1.2"/>
<rect x="53.85" y="298.80" width="1.8" height="1.4" fill="#333"/>
<rect x="53.85" y="328.60" width="1.8" height="1.4" fill="#333"/>
<line x1="63.85" y1="294.6" x2="63.85" y2="326.00" stroke="#808080" stroke-width="1.2"/>
<rect x="62.95" y="293.90" width="1.8" height="1.4" fill="#333"/>
<rect x="62.95" y="325.30" width="1.8" height="1.4" fill="#333"/>
<line x1="72.95" y1="283.40000000000003" x2="72.95" y2="324.60" stroke="#808080" stroke-width="1.2"/>
<rect x="72.05" y="282.70" width="1.8" height="1.4" fill="#333"/>
<rect x="72.05" y="323.90" width="1.8" height="1.4" fill="#333"/>
<line x1="82.05" y1="302.2" x2="82.05" y2="333.60" stroke="#808080" stroke-width="1.2"/>
<rect x="81.15" y="301.50" width="1.8" height="1.4" fill="#333"/>
<rect x="81.15" y="332.90" width="1.8" height="1.4" fill="#333"/>
<line x1="112.2" y1="446.6" x2="112.2" y2="450.40000000000003" stroke="#333" stroke-width="0.9"/>
<text x="111.7" y="456.5" font-size="7" text-anchor="middle" font-weight="normal" fill="#000" textLength="17.5" lengthAdjust="spacingAndGlyphs" >day 22</text>
<rect x="94.00" y="312.6" width="9.1" height="134.00" fill="#fff" stroke="#444" stroke-width="0.9"/>
<clipPath id="c19"><rect x="103.10" y="372.10" width="9.10" height="74.50"/></clipPath>
<g clip-path="url(#c19)">
<rect x="103.10" y="372.10" width="9.10" height="74.50" fill="#000"/>
<path d="M102.10 369.50L113.20 358.40M102.10 373.10L113.20 362.00M102.10 376.70L113.20 365.60M102.10 380.30L113.20 369.20M102.10 383.90L113.20 372.80M102.10 387.50L113.20 376.40M102.10 391.10L113.20 380.00M102.10 394.70L113.20 383.60M102.10 398.30L113.20 387.20M102.10 401.90L113.20 390.80M102.10 405.50L113.20 394.40M102.10 409.10L113.20 398.00M102.10 412.70L113.20 401.60M102.10 416.30L113.20 405.20M102.10 419.90L113.20 408.80M102.10 423.50L113.20 412.40M102.10 427.10L113.20 416.00M102.10 430.70L113.20 419.60M102.10 434.30L113.20 423.20M102.10 437.90L113.20 426.80M102.10 441.50L113.20 430.40M102.10 445.10L113.20 434.00M102.10 448.70L113.20 437.60M102.10 452.30L113.20 441.20M102.10 455.90L113.20 444.80M102.10 459.50L113.20 448.40" stroke="#fff" stroke-width="1.2" fill="none"/>
</g>
<rect x="103.10" y="372.1" width="9.1" height="74.50" fill="none" stroke="#444" stroke-width="0.9"/>
<clipPath id="c20"><rect x="112.20" y="370.70" width="9.10" height="75.90"/></clipPath>
<g clip-path="url(#c20)">
<rect x="112.20" y="370.70" width="9.10" height="75.90" fill="#fff"/>
<path d="M113.78 444.80h1.4v0.9h-1.4zM117.42 444.80h1.4v0.9h-1.4zM113.78 442.20h1.4v0.9h-1.4zM117.42 442.20h1.4v0.9h-1.4zM113.78 439.60h1.4v0.9h-1.4zM117.42 439.60h1.4v0.9h-1.4zM113.78 437.00h1.4v0.9h-1.4zM117.42 437.00h1.4v0.9h-1.4zM113.78 434.40h1.4v0.9h-1.4zM117.42 434.40h1.4v0.9h-1.4zM113.78 431.80h1.4v0.9h-1.4zM117.42 431.80h1.4v0.9h-1.4zM113.78 429.20h1.4v0.9h-1.4zM117.42 429.20h1.4v0.9h-1.4zM113.78 426.60h1.4v0.9h-1.4zM117.42 426.60h1.4v0.9h-1.4zM113.78 424.00h1.4v0.9h-1.4zM117.42 424.00h1.4v0.9h-1.4zM113.78 421.40h1.4v0.9h-1.4zM117.42 421.40h1.4v0.9h-1.4zM113.78 418.80h1.4v0.9h-1.4zM117.42 418.80h1.4v0.9h-1.4zM113.78 416.20h1.4v0.9h-1.4zM117.42 416.20h1.4v0.9h-1.4zM113.78 413.60h1.4v0.9h-1.4zM117.42 413.60h1.4v0.9h-1.4zM113.78 411.00h1.4v0.9h-1.4zM117.42 411.00h1.4v0.9h-1.4zM113.78 408.40h1.4v0.9h-1.4zM117.42 408.40h1.4v0.9h-1.4zM113.78 405.80h1.4v0.9h-1.4zM117.42 405.80h1.4v0.9h-1.4zM113.78 403.20h1.4v0.9h-1.4zM117.42 403.20h1.4v0.9h-1.4zM113.78 400.60h1.4v0.9h-1.4zM117.42 400.60h1.4v0.9h-1.4zM113.78 398.00h1.4v0.9h-1.4zM117.42 398.00h1.4v0.9h-1.4zM113.78 395.40h1.4v0.9h-1.4zM117.42 395.40h1.4v0.9h-1.4zM113.78 392.80h1.4v0.9h-1.4zM117.42 392.80h1.4v0.9h-1.4zM113.78 390.20h1.4v0.9h-1.4zM117.42 390.20h1.4v0.9h-1.4zM113.78 387.60h1.4v0.9h-1.4zM117.42 387.60h1.4v0.9h-1.4zM113.78 385.00h1.4v0.9h-1.4zM117.42 385.00h1.4v0.9h-1.4zM113.78 382.40h1.4v0.9h-1.4zM117.42 382.40h1.4v0.9h-1.4zM113.78 379.80h1.4v0.9h-1.4zM117.42 379.80h1.4v0.9h-1.4zM113.78 377.20h1.4v0.9h-1.4zM117.42 377.20h1.4v0.9h-1.4zM113.78 374.60h1.4v0.9h-1.4zM117.42 374.60h1.4v0.9h-1.4zM113.78 372.00h1.4v0.9h-1.4zM117.42 372.00h1.4v0.9h-1.4zM113.78 369.40h1.4v0.9h-1.4zM117.42 369.40h1.4v0.9h-1.4z" fill="#aaa"/>
</g>
<rect x="112.20" y="370.7" width="9.1" height="75.90" fill="none" stroke="#444" stroke-width="0.9"/>
<clipPath id="c21"><rect x="121.30" y="377.60" width="9.10" height="69.00"/></clipPath>
<g clip-path="url(#c21)">
<rect x="121.30" y="377.60" width="9.10" height="69.00" fill="#fff"/>
<path d="M121.30 444.30h2.275v2.3h-2.275zM125.85 444.30h2.275v2.3h-2.275zM130.40 444.30h2.275v2.3h-2.275zM123.58 442.00h2.275v2.3h-2.275zM128.12 442.00h2.275v2.3h-2.275zM132.68 442.00h2.275v2.3h-2.275zM121.30 439.70h2.275v2.3h-2.275zM125.85 439.70h2.275v2.3h-2.275zM130.40 439.70h2.275v2.3h-2.275zM123.58 437.40h2.275v2.3h-2.275zM128.12 437.40h2.275v2.3h-2.275zM132.68 437.40h2.275v2.3h-2.275zM121.30 435.10h2.275v2.3h-2.275zM125.85 435.10h2.275v2.3h-2.275zM130.40 435.10h2.275v2.3h-2.275zM123.58 432.80h2.275v2.3h-2.275zM128.12 432.80h2.275v2.3h-2.275zM132.68 432.80h2.275v2.3h-2.275zM121.30 430.50h2.275v2.3h-2.275zM125.85 430.50h2.275v2.3h-2.275zM130.40 430.50h2.275v2.3h-2.275zM123.58 428.20h2.275v2.3h-2.275zM128.12 428.20h2.275v2.3h-2.275zM132.68 428.20h2.275v2.3h-2.275zM121.30 425.90h2.275v2.3h-2.275zM125.85 425.90h2.275v2.3h-2.275zM130.40 425.90h2.275v2.3h-2.275zM123.58 423.60h2.275v2.3h-2.275zM128.12 423.60h2.275v2.3h-2.275zM132.68 423.60h2.275v2.3h-2.275zM121.30 421.30h2.275v2.3h-2.275zM125.85 421.30h2.275v2.3h-2.275zM130.40 421.30h2.275v2.3h-2.275zM123.58 419.00h2.275v2.3h-2.275zM128.12 419.00h2.275v2.3h-2.275zM132.68 419.00h2.275v2.3h-2.275zM121.30 416.70h2.275v2.3h-2.275zM125.85 416.70h2.275v2.3h-2.275zM130.40 416.70h2.275v2.3h-2.275zM123.58 414.40h2.275v2.3h-2.275zM128.12 414.40h2.275v2.3h-2.275zM132.68 414.40h2.275v2.3h-2.275zM121.30 412.10h2.275v2.3h-2.275zM125.85 412.10h2.275v2.3h-2.275zM130.40 412.10h2.275v2.3h-2.275zM123.58 409.80h2.275v2.3h-2.275zM128.12 409.80h2.275v2.3h-2.275zM132.68 409.80h2.275v2.3h-2.275zM121.30 407.50h2.275v2.3h-2.275zM125.85 407.50h2.275v2.3h-2.275zM130.40 407.50h2.275v2.3h-2.275zM123.58 405.20h2.275v2.3h-2.275zM128.12 405.20h2.275v2.3h-2.275zM132.68 405.20h2.275v2.3h-2.275zM121.30 402.90h2.275v2.3h-2.275zM125.85 402.90h2.275v2.3h-2.275zM130.40 402.90h2.275v2.3h-2.275zM123.58 400.60h2.275v2.3h-2.275zM128.12 400.60h2.275v2.3h-2.275zM132.68 400.60h2.275v2.3h-2.275zM121.30 398.30h2.275v2.3h-2.275zM125.85 398.30h2.275v2.3h-2.275zM130.40 398.30h2.275v2.3h-2.275zM123.58 396.00h2.275v2.3h-2.275zM128.12 396.00h2.275v2.3h-2.275zM132.68 396.00h2.275v2.3h-2.275zM121.30 393.70h2.275v2.3h-2.275zM125.85 393.70h2.275v2.3h-2.275zM130.40 393.70h2.275v2.3h-2.275zM123.58 391.40h2.275v2.3h-2.275zM128.12 391.40h2.275v2.3h-2.275zM132.68 391.40h2.275v2.3h-2.275zM121.30 389.10h2.275v2.3h-2.275zM125.85 389.10h2.275v2.3h-2.275zM130.40 389.10h2.275v2.3h-2.275zM123.58 386.80h2.275v2.3h-2.275zM128.12 386.80h2.275v2.3h-2.275zM132.68 386.80h2.275v2.3h-2.275zM121.30 384.50h2.275v2.3h-2.275zM125.85 384.50h2.275v2.3h-2.275zM130.40 384.50h2.275v2.3h-2.275zM123.58 382.20h2.275v2.3h-2.275zM128.12 382.20h2.275v2.3h-2.275zM132.68 382.20h2.275v2.3h-2.275zM121.30 379.90h2.275v2.3h-2.275zM125.85 379.90h2.275v2.3h-2.275zM130.40 379.90h2.275v2.3h-2.275zM123.58 377.60h2.275v2.3h-2.275zM128.12 377.60h2.275v2.3h-2.275zM132.68 377.60h2.275v2.3h-2.275zM121.30 375.30h2.275v2.3h-2.275zM125.85 375.30h2.275v2.3h-2.275zM130.40 375.30h2.275v2.3h-2.275z" fill="#000"/>
</g>
<rect x="121.30" y="377.6" width="9.1" height="69.00" fill="none" stroke="#444" stroke-width="0.9"/>
<line x1="98.55" y1="295.6" x2="98.55" y2="329.60" stroke="#808080" stroke-width="1.2"/>
<rect x="97.65" y="294.90" width="1.8" height="1.4" fill="#333"/>
<rect x="97.65" y="328.90" width="1.8" height="1.4" fill="#333"/>
<line x1="107.65" y1="360.90000000000003" x2="107.65" y2="383.30" stroke="#808080" stroke-width="1.2"/>
<rect x="106.75" y="360.20" width="1.8" height="1.4" fill="#333"/>
<rect x="106.75" y="382.60" width="1.8" height="1.4" fill="#333"/>
<line x1="116.75" y1="358.40000000000003" x2="116.75" y2="383.00" stroke="#808080" stroke-width="1.2"/>
<rect x="115.85" y="357.70" width="1.8" height="1.4" fill="#333"/>
<rect x="115.85" y="382.30" width="1.8" height="1.4" fill="#333"/>
<line x1="125.85" y1="363.7" x2="125.85" y2="391.50" stroke="#808080" stroke-width="1.2"/>
<rect x="124.95" y="363.00" width="1.8" height="1.4" fill="#333"/>
<rect x="124.95" y="390.80" width="1.8" height="1.4" fill="#333"/>
<line x1="156" y1="446.6" x2="156" y2="450.40000000000003" stroke="#333" stroke-width="0.9"/>
<text x="155.5" y="456.5" font-size="7" text-anchor="middle" font-weight="normal" fill="#000" textLength="17.5" lengthAdjust="spacingAndGlyphs" >day 29</text>
<rect x="137.80" y="308.1" width="9.1" height="138.50" fill="#fff" stroke="#444" stroke-width="0.9"/>
<clipPath id="c22"><rect x="146.90" y="362.10" width="9.10" height="84.50"/></clipPath>
<g clip-path="url(#c22)">
<rect x="146.90" y="362.10" width="9.10" height="84.50" fill="#000"/>
<path d="M145.90 358.10L157.00 347.00M145.90 361.70L157.00 350.60M145.90 365.30L157.00 354.20M145.90 368.90L157.00 357.80M145.90 372.50L157.00 361.40M145.90 376.10L157.00 365.00M145.90 379.70L157.00 368.60M145.90 383.30L157.00 372.20M145.90 386.90L157.00 375.80M145.90 390.50L157.00 379.40M145.90 394.10L157.00 383.00M145.90 397.70L157.00 386.60M145.90 401.30L157.00 390.20M145.90 404.90L157.00 393.80M145.90 408.50L157.00 397.40M145.90 412.10L157.00 401.00M145.90 415.70L157.00 404.60M145.90 419.30L157.00 408.20M145.90 422.90L157.00 411.80M145.90 426.50L157.00 415.40M145.90 430.10L157.00 419.00M145.90 433.70L157.00 422.60M145.90 437.30L157.00 426.20M145.90 440.90L157.00 429.80M145.90 444.50L157.00 433.40M145.90 448.10L157.00 437.00M145.90 451.70L157.00 440.60M145.90 455.30L157.00 444.20M145.90 458.90L157.00 447.80" stroke="#fff" stroke-width="1.2" fill="none"/>
</g>
<rect x="146.90" y="362.1" width="9.1" height="84.50" fill="none" stroke="#444" stroke-width="0.9"/>
<clipPath id="c23"><rect x="156.00" y="362.30" width="9.10" height="84.30"/></clipPath>
<g clip-path="url(#c23)">
<rect x="156.00" y="362.30" width="9.10" height="84.30" fill="#fff"/>
<path d="M157.58 444.80h1.4v0.9h-1.4zM161.22 444.80h1.4v0.9h-1.4zM157.58 442.20h1.4v0.9h-1.4zM161.22 442.20h1.4v0.9h-1.4zM157.58 439.60h1.4v0.9h-1.4zM161.22 439.60h1.4v0.9h-1.4zM157.58 437.00h1.4v0.9h-1.4zM161.22 437.00h1.4v0.9h-1.4zM157.58 434.40h1.4v0.9h-1.4zM161.22 434.40h1.4v0.9h-1.4zM157.58 431.80h1.4v0.9h-1.4zM161.22 431.80h1.4v0.9h-1.4zM157.58 429.20h1.4v0.9h-1.4zM161.22 429.20h1.4v0.9h-1.4zM157.58 426.60h1.4v0.9h-1.4zM161.22 426.60h1.4v0.9h-1.4zM157.58 424.00h1.4v0.9h-1.4zM161.22 424.00h1.4v0.9h-1.4zM157.58 421.40h1.4v0.9h-1.4zM161.22 421.40h1.4v0.9h-1.4zM157.58 418.80h1.4v0.9h-1.4zM161.22 418.80h1.4v0.9h-1.4zM157.58 416.20h1.4v0.9h-1.4zM161.22 416.20h1.4v0.9h-1.4zM157.58 413.60h1.4v0.9h-1.4zM161.22 413.60h1.4v0.9h-1.4zM157.58 411.00h1.4v0.9h-1.4zM161.22 411.00h1.4v0.9h-1.4zM157.58 408.40h1.4v0.9h-1.4zM161.22 408.40h1.4v0.9h-1.4zM157.58 405.80h1.4v0.9h-1.4zM161.22 405.80h1.4v0.9h-1.4zM157.58 403.20h1.4v0.9h-1.4zM161.22 403.20h1.4v0.9h-1.4zM157.58 400.60h1.4v0.9h-1.4zM161.22 400.60h1.4v0.9h-1.4zM157.58 398.00h1.4v0.9h-1.4zM161.22 398.00h1.4v0.9h-1.4zM157.58 395.40h1.4v0.9h-1.4zM161.22 395.40h1.4v0.9h-1.4zM157.58 392.80h1.4v0.9h-1.4zM161.22 392.80h1.4v0.9h-1.4zM157.58 390.20h1.4v0.9h-1.4zM161.22 390.20h1.4v0.9h-1.4zM157.58 387.60h1.4v0.9h-1.4zM161.22 387.60h1.4v0.9h-1.4zM157.58 385.00h1.4v0.9h-1.4zM161.22 385.00h1.4v0.9h-1.4zM157.58 382.40h1.4v0.9h-1.4zM161.22 382.40h1.4v0.9h-1.4zM157.58 379.80h1.4v0.9h-1.4zM161.22 379.80h1.4v0.9h-1.4zM157.58 377.20h1.4v0.9h-1.4zM161.22 377.20h1.4v0.9h-1.4zM157.58 374.60h1.4v0.9h-1.4zM161.22 374.60h1.4v0.9h-1.4zM157.58 372.00h1.4v0.9h-1.4zM161.22 372.00h1.4v0.9h-1.4zM157.58 369.40h1.4v0.9h-1.4zM161.22 369.40h1.4v0.9h-1.4zM157.58 366.80h1.4v0.9h-1.4zM161.22 366.80h1.4v0.9h-1.4zM157.58 364.20h1.4v0.9h-1.4zM161.22 364.20h1.4v0.9h-1.4zM157.58 361.60h1.4v0.9h-1.4zM161.22 361.60h1.4v0.9h-1.4z" fill="#aaa"/>
</g>
<rect x="156.00" y="362.3" width="9.1" height="84.30" fill="none" stroke="#444" stroke-width="0.9"/>
<clipPath id="c24"><rect x="165.10" y="350.30" width="9.10" height="96.30"/></clipPath>
<g clip-path="url(#c24)">
<rect x="165.10" y="350.30" width="9.10" height="96.30" fill="#fff"/>
<path d="M165.10 444.30h2.275v2.3h-2.275zM169.65 444.30h2.275v2.3h-2.275zM174.20 444.30h2.275v2.3h-2.275zM167.38 442.00h2.275v2.3h-2.275zM171.93 442.00h2.275v2.3h-2.275zM176.48 442.00h2.275v2.3h-2.275zM165.10 439.70h2.275v2.3h-2.275zM169.65 439.70h2.275v2.3h-2.275zM174.20 439.70h2.275v2.3h-2.275zM167.38 437.40h2.275v2.3h-2.275zM171.93 437.40h2.275v2.3h-2.275zM176.48 437.40h2.275v2.3h-2.275zM165.10 435.10h2.275v2.3h-2.275zM169.65 435.10h2.275v2.3h-2.275zM174.20 435.10h2.275v2.3h-2.275zM167.38 432.80h2.275v2.3h-2.275zM171.93 432.80h2.275v2.3h-2.275zM176.48 432.80h2.275v2.3h-2.275zM165.10 430.50h2.275v2.3h-2.275zM169.65 430.50h2.275v2.3h-2.275zM174.20 430.50h2.275v2.3h-2.275zM167.38 428.20h2.275v2.3h-2.275zM171.93 428.20h2.275v2.3h-2.275zM176.48 428.20h2.275v2.3h-2.275zM165.10 425.90h2.275v2.3h-2.275zM169.65 425.90h2.275v2.3h-2.275zM174.20 425.90h2.275v2.3h-2.275zM167.38 423.60h2.275v2.3h-2.275zM171.93 423.60h2.275v2.3h-2.275zM176.48 423.60h2.275v2.3h-2.275zM165.10 421.30h2.275v2.3h-2.275zM169.65 421.30h2.275v2.3h-2.275zM174.20 421.30h2.275v2.3h-2.275zM167.38 419.00h2.275v2.3h-2.275zM171.93 419.00h2.275v2.3h-2.275zM176.48 419.00h2.275v2.3h-2.275zM165.10 416.70h2.275v2.3h-2.275zM169.65 416.70h2.275v2.3h-2.275zM174.20 416.70h2.275v2.3h-2.275zM167.38 414.40h2.275v2.3h-2.275zM171.93 414.40h2.275v2.3h-2.275zM176.48 414.40h2.275v2.3h-2.275zM165.10 412.10h2.275v2.3h-2.275zM169.65 412.10h2.275v2.3h-2.275zM174.20 412.10h2.275v2.3h-2.275zM167.38 409.80h2.275v2.3h-2.275zM171.93 409.80h2.275v2.3h-2.275zM176.48 409.80h2.275v2.3h-2.275zM165.10 407.50h2.275v2.3h-2.275zM169.65 407.50h2.275v2.3h-2.275zM174.20 407.50h2.275v2.3h-2.275zM167.38 405.20h2.275v2.3h-2.275zM171.93 405.20h2.275v2.3h-2.275zM176.48 405.20h2.275v2.3h-2.275zM165.10 402.90h2.275v2.3h-2.275zM169.65 402.90h2.275v2.3h-2.275zM174.20 402.90h2.275v2.3h-2.275zM167.38 400.60h2.275v2.3h-2.275zM171.93 400.60h2.275v2.3h-2.275zM176.48 400.60h2.275v2.3h-2.275zM165.10 398.30h2.275v2.3h-2.275zM169.65 398.30h2.275v2.3h-2.275zM174.20 398.30h2.275v2.3h-2.275zM167.38 396.00h2.275v2.3h-2.275zM171.93 396.00h2.275v2.3h-2.275zM176.48 396.00h2.275v2.3h-2.275zM165.10 393.70h2.275v2.3h-2.275zM169.65 393.70h2.275v2.3h-2.275zM174.20 393.70h2.275v2.3h-2.275zM167.38 391.40h2.275v2.3h-2.275zM171.93 391.40h2.275v2.3h-2.275zM176.48 391.40h2.275v2.3h-2.275zM165.10 389.10h2.275v2.3h-2.275zM169.65 389.10h2.275v2.3h-2.275zM174.20 389.10h2.275v2.3h-2.275zM167.38 386.80h2.275v2.3h-2.275zM171.93 386.80h2.275v2.3h-2.275zM176.48 386.80h2.275v2.3h-2.275zM165.10 384.50h2.275v2.3h-2.275zM169.65 384.50h2.275v2.3h-2.275zM174.20 384.50h2.275v2.3h-2.275zM167.38 382.20h2.275v2.3h-2.275zM171.93 382.20h2.275v2.3h-2.275zM176.48 382.20h2.275v2.3h-2.275zM165.10 379.90h2.275v2.3h-2.275zM169.65 379.90h2.275v2.3h-2.275zM174.20 379.90h2.275v2.3h-2.275zM167.38 377.60h2.275v2.3h-2.275zM171.93 377.60h2.275v2.3h-2.275zM176.48 377.60h2.275v2.3h-2.275zM165.10 375.30h2.275v2.3h-2.275zM169.65 375.30h2.275v2.3h-2.275zM174.20 375.30h2.275v2.3h-2.275zM167.38 373.00h2.275v2.3h-2.275zM171.93 373.00h2.275v2.3h-2.275zM176.48 373.00h2.275v2.3h-2.275zM165.10 370.70h2.275v2.3h-2.275zM169.65 370.70h2.275v2.3h-2.275zM174.20 370.70h2.275v2.3h-2.275zM167.38 368.40h2.275v2.3h-2.275zM171.93 368.40h2.275v2.3h-2.275zM176.48 368.40h2.275v2.3h-2.275zM165.10 366.10h2.275v2.3h-2.275zM169.65 366.10h2.275v2.3h-2.275zM174.20 366.10h2.275v2.3h-2.275zM167.38 363.80h2.275v2.3h-2.275zM171.93 363.80h2.275v2.3h-2.275zM176.48 363.80h2.275v2.3h-2.275zM165.10 361.50h2.275v2.3h-2.275zM169.65 361.50h2.275v2.3h-2.275zM174.20 361.50h2.275v2.3h-2.275zM167.38 359.20h2.275v2.3h-2.275zM171.93 359.20h2.275v2.3h-2.275zM176.48 359.20h2.275v2.3h-2.275zM165.10 356.90h2.275v2.3h-2.275zM169.65 356.90h2.275v2.3h-2.275zM174.20 356.90h2.275v2.3h-2.275zM167.38 354.60h2.275v2.3h-2.275zM171.93 354.60h2.275v2.3h-2.275zM176.48 354.60h2.275v2.3h-2.275zM165.10 352.30h2.275v2.3h-2.275zM169.65 352.30h2.275v2.3h-2.275zM174.20 352.30h2.275v2.3h-2.275zM167.38 350.00h2.275v2.3h-2.275zM171.93 350.00h2.275v2.3h-2.275zM176.48 350.00h2.275v2.3h-2.275z" fill="#000"/>
</g>
<rect x="165.10" y="350.3" width="9.1" height="96.30" fill="none" stroke="#444" stroke-width="0.9"/>
<line x1="142.35" y1="293.8" x2="142.35" y2="322.40" stroke="#808080" stroke-width="1.2"/>
<rect x="141.45" y="293.10" width="1.8" height="1.4" fill="#333"/>
<rect x="141.45" y="321.70" width="1.8" height="1.4" fill="#333"/>
<line x1="151.45" y1="348.8" x2="151.45" y2="375.40" stroke="#808080" stroke-width="1.2"/>
<rect x="150.55" y="348.10" width="1.8" height="1.4" fill="#333"/>
<rect x="150.55" y="374.70" width="1.8" height="1.4" fill="#333"/>
<line x1="160.55" y1="346.1" x2="160.55" y2="378.50" stroke="#808080" stroke-width="1.2"/>
<rect x="159.65" y="345.40" width="1.8" height="1.4" fill="#333"/>
<rect x="159.65" y="377.80" width="1.8" height="1.4" fill="#333"/>
<line x1="169.65" y1="331.2" x2="169.65" y2="369.40" stroke="#808080" stroke-width="1.2"/>
<rect x="168.75" y="330.50" width="1.8" height="1.4" fill="#333"/>
<rect x="168.75" y="368.70" width="1.8" height="1.4" fill="#333"/>
<line x1="199.8" y1="446.6" x2="199.8" y2="450.40000000000003" stroke="#333" stroke-width="0.9"/>
<text x="199.3" y="456.5" font-size="7" text-anchor="middle" font-weight="normal" fill="#000" textLength="17.5" lengthAdjust="spacingAndGlyphs" >day 36</text>
<rect x="181.60" y="298.5" width="9.1" height="148.10" fill="#fff" stroke="#444" stroke-width="0.9"/>
<clipPath id="c25"><rect x="190.70" y="365.10" width="9.10" height="81.50"/></clipPath>
<g clip-path="url(#c25)">
<rect x="190.70" y="365.10" width="9.10" height="81.50" fill="#000"/>
<path d="M189.70 361.10L200.80 350.00M189.70 364.70L200.80 353.60M189.70 368.30L200.80 357.20M189.70 371.90L200.80 360.80M189.70 375.50L200.80 364.40M189.70 379.10L200.80 368.00M189.70 382.70L200.80 371.60M189.70 386.30L200.80 375.20M189.70 389.90L200.80 378.80M189.70 393.50L200.80 382.40M189.70 397.10L200.80 386.00M189.70 400.70L200.80 389.60M189.70 404.30L200.80 393.20M189.70 407.90L200.80 396.80M189.70 411.50L200.80 400.40M189.70 415.10L200.80 404.00M189.70 418.70L200.80 407.60M189.70 422.30L200.80 411.20M189.70 425.90L200.80 414.80M189.70 429.50L200.80 418.40M189.70 433.10L200.80 422.00M189.70 436.70L200.80 425.60M189.70 440.30L200.80 429.20M189.70 443.90L200.80 432.80M189.70 447.50L200.80 436.40M189.70 451.10L200.80 440.00M189.70 454.70L200.80 443.60M189.70 458.30L200.80 447.20" stroke="#fff" stroke-width="1.2" fill="none"/>
</g>
<rect x="190.70" y="365.1" width="9.1" height="81.50" fill="none" stroke="#444" stroke-width="0.9"/>
<clipPath id="c26"><rect x="199.80" y="345.20" width="9.10" height="101.40"/></clipPath>
<g clip-path="url(#c26)">
<rect x="199.80" y="345.20" width="9.10" height="101.40" fill="#fff"/>
<path d="M201.38 444.80h1.4v0.9h-1.4zM205.02 444.80h1.4v0.9h-1.4zM201.38 442.20h1.4v0.9h-1.4zM205.02 442.20h1.4v0.9h-1.4zM201.38 439.60h1.4v0.9h-1.4zM205.02 439.60h1.4v0.9h-1.4zM201.38 437.00h1.4v0.9h-1.4zM205.02 437.00h1.4v0.9h-1.4zM201.38 434.40h1.4v0.9h-1.4zM205.02 434.40h1.4v0.9h-1.4zM201.38 431.80h1.4v0.9h-1.4zM205.02 431.80h1.4v0.9h-1.4zM201.38 429.20h1.4v0.9h-1.4zM205.02 429.20h1.4v0.9h-1.4zM201.38 426.60h1.4v0.9h-1.4zM205.02 426.60h1.4v0.9h-1.4zM201.38 424.00h1.4v0.9h-1.4zM205.02 424.00h1.4v0.9h-1.4zM201.38 421.40h1.4v0.9h-1.4zM205.02 421.40h1.4v0.9h-1.4zM201.38 418.80h1.4v0.9h-1.4zM205.02 418.80h1.4v0.9h-1.4zM201.38 416.20h1.4v0.9h-1.4zM205.02 416.20h1.4v0.9h-1.4zM201.38 413.60h1.4v0.9h-1.4zM205.02 413.60h1.4v0.9h-1.4zM201.38 411.00h1.4v0.9h-1.4zM205.02 411.00h1.4v0.9h-1.4zM201.38 408.40h1.4v0.9h-1.4zM205.02 408.40h1.4v0.9h-1.4zM201.38 405.80h1.4v0.9h-1.4zM205.02 405.80h1.4v0.9h-1.4zM201.38 403.20h1.4v0.9h-1.4zM205.02 403.20h1.4v0.9h-1.4zM201.38 400.60h1.4v0.9h-1.4zM205.02 400.60h1.4v0.9h-1.4zM201.38 398.00h1.4v0.9h-1.4zM205.02 398.00h1.4v0.9h-1.4zM201.38 395.40h1.4v0.9h-1.4zM205.02 395.40h1.4v0.9h-1.4zM201.38 392.80h1.4v0.9h-1.4zM205.02 392.80h1.4v0.9h-1.4zM201.38 390.20h1.4v0.9h-1.4zM205.02 390.20h1.4v0.9h-1.4zM201.38 387.60h1.4v0.9h-1.4zM205.02 387.60h1.4v0.9h-1.4zM201.38 385.00h1.4v0.9h-1.4zM205.02 385.00h1.4v0.9h-1.4zM201.38 382.40h1.4v0.9h-1.4zM205.02 382.40h1.4v0.9h-1.4zM201.38 379.80h1.4v0.9h-1.4zM205.02 379.80h1.4v0.9h-1.4zM201.38 377.20h1.4v0.9h-1.4zM205.02 377.20h1.4v0.9h-1.4zM201.38 374.60h1.4v0.9h-1.4zM205.02 374.60h1.4v0.9h-1.4zM201.38 372.00h1.4v0.9h-1.4zM205.02 372.00h1.4v0.9h-1.4zM201.38 369.40h1.4v0.9h-1.4zM205.02 369.40h1.4v0.9h-1.4zM201.38 366.80h1.4v0.9h-1.4zM205.02 366.80h1.4v0.9h-1.4zM201.38 364.20h1.4v0.9h-1.4zM205.02 364.20h1.4v0.9h-1.4zM201.38 361.60h1.4v0.9h-1.4zM205.02 361.60h1.4v0.9h-1.4zM201.38 359.00h1.4v0.9h-1.4zM205.02 359.00h1.4v0.9h-1.4zM201.38 356.40h1.4v0.9h-1.4zM205.02 356.40h1.4v0.9h-1.4zM201.38 353.80h1.4v0.9h-1.4zM205.02 353.80h1.4v0.9h-1.4zM201.38 351.20h1.4v0.9h-1.4zM205.02 351.20h1.4v0.9h-1.4zM201.38 348.60h1.4v0.9h-1.4zM205.02 348.60h1.4v0.9h-1.4zM201.38 346.00h1.4v0.9h-1.4zM205.02 346.00h1.4v0.9h-1.4zM201.38 343.40h1.4v0.9h-1.4zM205.02 343.40h1.4v0.9h-1.4z" fill="#aaa"/>
</g>
<rect x="199.80" y="345.2" width="9.1" height="101.40" fill="none" stroke="#444" stroke-width="0.9"/>
<clipPath id="c27"><rect x="208.90" y="333.80" width="9.10" height="112.80"/></clipPath>
<g clip-path="url(#c27)">
<rect x="208.90" y="333.80" width="9.10" height="112.80" fill="#fff"/>
<path d="M208.90 444.30h2.275v2.3h-2.275zM213.45 444.30h2.275v2.3h-2.275zM218.00 444.30h2.275v2.3h-2.275zM211.18 442.00h2.275v2.3h-2.275zM215.73 442.00h2.275v2.3h-2.275zM220.28 442.00h2.275v2.3h-2.275zM208.90 439.70h2.275v2.3h-2.275zM213.45 439.70h2.275v2.3h-2.275zM218.00 439.70h2.275v2.3h-2.275zM211.18 437.40h2.275v2.3h-2.275zM215.73 437.40h2.275v2.3h-2.275zM220.28 437.40h2.275v2.3h-2.275zM208.90 435.10h2.275v2.3h-2.275zM213.45 435.10h2.275v2.3h-2.275zM218.00 435.10h2.275v2.3h-2.275zM211.18 432.80h2.275v2.3h-2.275zM215.73 432.80h2.275v2.3h-2.275zM220.28 432.80h2.275v2.3h-2.275zM208.90 430.50h2.275v2.3h-2.275zM213.45 430.50h2.275v2.3h-2.275zM218.00 430.50h2.275v2.3h-2.275zM211.18 428.20h2.275v2.3h-2.275zM215.73 428.20h2.275v2.3h-2.275zM220.28 428.20h2.275v2.3h-2.275zM208.90 425.90h2.275v2.3h-2.275zM213.45 425.90h2.275v2.3h-2.275zM218.00 425.90h2.275v2.3h-2.275zM211.18 423.60h2.275v2.3h-2.275zM215.73 423.60h2.275v2.3h-2.275zM220.28 423.60h2.275v2.3h-2.275zM208.90 421.30h2.275v2.3h-2.275zM213.45 421.30h2.275v2.3h-2.275zM218.00 421.30h2.275v2.3h-2.275zM211.18 419.00h2.275v2.3h-2.275zM215.73 419.00h2.275v2.3h-2.275zM220.28 419.00h2.275v2.3h-2.275zM208.90 416.70h2.275v2.3h-2.275zM213.45 416.70h2.275v2.3h-2.275zM218.00 416.70h2.275v2.3h-2.275zM211.18 414.40h2.275v2.3h-2.275zM215.73 414.40h2.275v2.3h-2.275zM220.28 414.40h2.275v2.3h-2.275zM208.90 412.10h2.275v2.3h-2.275zM213.45 412.10h2.275v2.3h-2.275zM218.00 412.10h2.275v2.3h-2.275zM211.18 409.80h2.275v2.3h-2.275zM215.73 409.80h2.275v2.3h-2.275zM220.28 409.80h2.275v2.3h-2.275zM208.90 407.50h2.275v2.3h-2.275zM213.45 407.50h2.275v2.3h-2.275zM218.00 407.50h2.275v2.3h-2.275zM211.18 405.20h2.275v2.3h-2.275zM215.73 405.20h2.275v2.3h-2.275zM220.28 405.20h2.275v2.3h-2.275zM208.90 402.90h2.275v2.3h-2.275zM213.45 402.90h2.275v2.3h-2.275zM218.00 402.90h2.275v2.3h-2.275zM211.18 400.60h2.275v2.3h-2.275zM215.73 400.60h2.275v2.3h-2.275zM220.28 400.60h2.275v2.3h-2.275zM208.90 398.30h2.275v2.3h-2.275zM213.45 398.30h2.275v2.3h-2.275zM218.00 398.30h2.275v2.3h-2.275zM211.18 396.00h2.275v2.3h-2.275zM215.73 396.00h2.275v2.3h-2.275zM220.28 396.00h2.275v2.3h-2.275zM208.90 393.70h2.275v2.3h-2.275zM213.45 393.70h2.275v2.3h-2.275zM218.00 393.70h2.275v2.3h-2.275zM211.18 391.40h2.275v2.3h-2.275zM215.73 391.40h2.275v2.3h-2.275zM220.28 391.40h2.275v2.3h-2.275zM208.90 389.10h2.275v2.3h-2.275zM213.45 389.10h2.275v2.3h-2.275zM218.00 389.10h2.275v2.3h-2.275zM211.18 386.80h2.275v2.3h-2.275zM215.73 386.80h2.275v2.3h-2.275zM220.28 386.80h2.275v2.3h-2.275zM208.90 384.50h2.275v2.3h-2.275zM213.45 384.50h2.275v2.3h-2.275zM218.00 384.50h2.275v2.3h-2.275zM211.18 382.20h2.275v2.3h-2.275zM215.73 382.20h2.275v2.3h-2.275zM220.28 382.20h2.275v2.3h-2.275zM208.90 379.90h2.275v2.3h-2.275zM213.45 379.90h2.275v2.3h-2.275zM218.00 379.90h2.275v2.3h-2.275zM211.18 377.60h2.275v2.3h-2.275zM215.73 377.60h2.275v2.3h-2.275zM220.28 377.60h2.275v2.3h-2.275zM208.90 375.30h2.275v2.3h-2.275zM213.45 375.30h2.275v2.3h-2.275zM218.00 375.30h2.275v2.3h-2.275zM211.18 373.00h2.275v2.3h-2.275zM215.73 373.00h2.275v2.3h-2.275zM220.28 373.00h2.275v2.3h-2.275zM208.90 370.70h2.275v2.3h-2.275zM213.45 370.70h2.275v2.3h-2.275zM218.00 370.70h2.275v2.3h-2.275zM211.18 368.40h2.275v2.3h-2.275zM215.73 368.40h2.275v2.3h-2.275zM220.28 368.40h2.275v2.3h-2.275zM208.90 366.10h2.275v2.3h-2.275zM213.45 366.10h2.275v2.3h-2.275zM218.00 366.10h2.275v2.3h-2.275zM211.18 363.80h2.275v2.3h-2.275zM215.73 363.80h2.275v2.3h-2.275zM220.28 363.80h2.275v2.3h-2.275zM208.90 361.50h2.275v2.3h-2.275zM213.45 361.50h2.275v2.3h-2.275zM218.00 361.50h2.275v2.3h-2.275zM211.18 359.20h2.275v2.3h-2.275zM215.73 359.20h2.275v2.3h-2.275zM220.28 359.20h2.275v2.3h-2.275zM208.90 356.90h2.275v2.3h-2.275zM213.45 356.90h2.275v2.3h-2.275zM218.00 356.90h2.275v2.3h-2.275zM211.18 354.60h2.275v2.3h-2.275zM215.73 354.60h2.275v2.3h-2.275zM220.28 354.60h2.275v2.3h-2.275zM208.90 352.30h2.275v2.3h-2.275zM213.45 352.30h2.275v2.3h-2.275zM218.00 352.30h2.275v2.3h-2.275zM211.18 350.00h2.275v2.3h-2.275zM215.73 350.00h2.275v2.3h-2.275zM220.28 350.00h2.275v2.3h-2.275zM208.90 347.70h2.275v2.3h-2.275zM213.45 347.70h2.275v2.3h-2.275zM218.00 347.70h2.275v2.3h-2.275zM211.18 345.40h2.275v2.3h-2.275zM215.73 345.40h2.275v2.3h-2.275zM220.28 345.40h2.275v2.3h-2.275zM208.90 343.10h2.275v2.3h-2.275zM213.45 343.10h2.275v2.3h-2.275zM218.00 343.10h2.275v2.3h-2.275zM211.18 340.80h2.275v2.3h-2.275zM215.73 340.80h2.275v2.3h-2.275zM220.28 340.80h2.275v2.3h-2.275zM208.90 338.50h2.275v2.3h-2.275zM213.45 338.50h2.275v2.3h-2.275zM218.00 338.50h2.275v2.3h-2.275zM211.18 336.20h2.275v2.3h-2.275zM215.73 336.20h2.275v2.3h-2.275zM220.28 336.20h2.275v2.3h-2.275zM208.90 333.90h2.275v2.3h-2.275zM213.45 333.90h2.275v2.3h-2.275zM218.00 333.90h2.275v2.3h-2.275zM211.18 331.60h2.275v2.3h-2.275zM215.73 331.60h2.275v2.3h-2.275zM220.28 331.60h2.275v2.3h-2.275z" fill="#000"/>
</g>
<rect x="208.90" y="333.8" width="9.1" height="112.80" fill="none" stroke="#444" stroke-width="0.9"/>
<line x1="186.15" y1="271.3" x2="186.15" y2="325.70" stroke="#808080" stroke-width="1.2"/>
<rect x="185.25" y="270.60" width="1.8" height="1.4" fill="#333"/>
<rect x="185.25" y="325.00" width="1.8" height="1.4" fill="#333"/>
<line x1="195.25" y1="357.1" x2="195.25" y2="373.10" stroke="#808080" stroke-width="1.2"/>
<rect x="194.35" y="356.40" width="1.8" height="1.4" fill="#333"/>
<rect x="194.35" y="372.40" width="1.8" height="1.4" fill="#333"/>
<line x1="204.35" y1="330.6" x2="204.35" y2="359.80" stroke="#808080" stroke-width="1.2"/>
<rect x="203.45" y="329.90" width="1.8" height="1.4" fill="#333"/>
<rect x="203.45" y="359.10" width="1.8" height="1.4" fill="#333"/>
<line x1="213.45" y1="312.6" x2="213.45" y2="355.00" stroke="#808080" stroke-width="1.2"/>
<rect x="212.55" y="311.90" width="1.8" height="1.4" fill="#333"/>
<rect x="212.55" y="354.30" width="1.8" height="1.4" fill="#333"/>
<line x1="243.6" y1="446.6" x2="243.6" y2="450.40000000000003" stroke="#333" stroke-width="0.9"/>
<text x="243.1" y="456.5" font-size="7" text-anchor="middle" font-weight="normal" fill="#000" textLength="17.5" lengthAdjust="spacingAndGlyphs" >day 43</text>
<rect x="225.40" y="294.2" width="9.1" height="152.40" fill="#fff" stroke="#444" stroke-width="0.9"/>
<clipPath id="c28"><rect x="234.50" y="369.10" width="9.10" height="77.50"/></clipPath>
<g clip-path="url(#c28)">
<rect x="234.50" y="369.10" width="9.10" height="77.50" fill="#000"/>
<path d="M233.50 364.10L244.60 353.00M233.50 367.70L244.60 356.60M233.50 371.30L244.60 360.20M233.50 374.90L244.60 363.80M233.50 378.50L244.60 367.40M233.50 382.10L244.60 371.00M233.50 385.70L244.60 374.60M233.50 389.30L244.60 378.20M233.50 392.90L244.60 381.80M233.50 396.50L244.60 385.40M233.50 400.10L244.60 389.00M233.50 403.70L244.60 392.60M233.50 407.30L244.60 396.20M233.50 410.90L244.60 399.80M233.50 414.50L244.60 403.40M233.50 418.10L244.60 407.00M233.50 421.70L244.60 410.60M233.50 425.30L244.60 414.20M233.50 428.90L244.60 417.80M233.50 432.50L244.60 421.40M233.50 436.10L244.60 425.00M233.50 439.70L244.60 428.60M233.50 443.30L244.60 432.20M233.50 446.90L244.60 435.80M233.50 450.50L244.60 439.40M233.50 454.10L244.60 443.00M233.50 457.70L244.60 446.60" stroke="#fff" stroke-width="1.2" fill="none"/>
</g>
<rect x="234.50" y="369.1" width="9.1" height="77.50" fill="none" stroke="#444" stroke-width="0.9"/>
<clipPath id="c29"><rect x="243.60" y="334.00" width="9.10" height="112.60"/></clipPath>
<g clip-path="url(#c29)">
<rect x="243.60" y="334.00" width="9.10" height="112.60" fill="#fff"/>
<path d="M245.18 444.80h1.4v0.9h-1.4zM248.81 444.80h1.4v0.9h-1.4zM245.18 442.20h1.4v0.9h-1.4zM248.81 442.20h1.4v0.9h-1.4zM245.18 439.60h1.4v0.9h-1.4zM248.81 439.60h1.4v0.9h-1.4zM245.18 437.00h1.4v0.9h-1.4zM248.81 437.00h1.4v0.9h-1.4zM245.18 434.40h1.4v0.9h-1.4zM248.81 434.40h1.4v0.9h-1.4zM245.18 431.80h1.4v0.9h-1.4zM248.81 431.80h1.4v0.9h-1.4zM245.18 429.20h1.4v0.9h-1.4zM248.81 429.20h1.4v0.9h-1.4zM245.18 426.60h1.4v0.9h-1.4zM248.81 426.60h1.4v0.9h-1.4zM245.18 424.00h1.4v0.9h-1.4zM248.81 424.00h1.4v0.9h-1.4zM245.18 421.40h1.4v0.9h-1.4zM248.81 421.40h1.4v0.9h-1.4zM245.18 418.80h1.4v0.9h-1.4zM248.81 418.80h1.4v0.9h-1.4zM245.18 416.20h1.4v0.9h-1.4zM248.81 416.20h1.4v0.9h-1.4zM245.18 413.60h1.4v0.9h-1.4zM248.81 413.60h1.4v0.9h-1.4zM245.18 411.00h1.4v0.9h-1.4zM248.81 411.00h1.4v0.9h-1.4zM245.18 408.40h1.4v0.9h-1.4zM248.81 408.40h1.4v0.9h-1.4zM245.18 405.80h1.4v0.9h-1.4zM248.81 405.80h1.4v0.9h-1.4zM245.18 403.20h1.4v0.9h-1.4zM248.81 403.20h1.4v0.9h-1.4zM245.18 400.60h1.4v0.9h-1.4zM248.81 400.60h1.4v0.9h-1.4zM245.18 398.00h1.4v0.9h-1.4zM248.81 398.00h1.4v0.9h-1.4zM245.18 395.40h1.4v0.9h-1.4zM248.81 395.40h1.4v0.9h-1.4zM245.18 392.80h1.4v0.9h-1.4zM248.81 392.80h1.4v0.9h-1.4zM245.18 390.20h1.4v0.9h-1.4zM248.81 390.20h1.4v0.9h-1.4zM245.18 387.60h1.4v0.9h-1.4zM248.81 387.60h1.4v0.9h-1.4zM245.18 385.00h1.4v0.9h-1.4zM248.81 385.00h1.4v0.9h-1.4zM245.18 382.40h1.4v0.9h-1.4zM248.81 382.40h1.4v0.9h-1.4zM245.18 379.80h1.4v0.9h-1.4zM248.81 379.80h1.4v0.9h-1.4zM245.18 377.20h1.4v0.9h-1.4zM248.81 377.20h1.4v0.9h-1.4zM245.18 374.60h1.4v0.9h-1.4zM248.81 374.60h1.4v0.9h-1.4zM245.18 372.00h1.4v0.9h-1.4zM248.81 372.00h1.4v0.9h-1.4zM245.18 369.40h1.4v0.9h-1.4zM248.81 369.40h1.4v0.9h-1.4zM245.18 366.80h1.4v0.9h-1.4zM248.81 366.80h1.4v0.9h-1.4zM245.18 364.20h1.4v0.9h-1.4zM248.81 364.20h1.4v0.9h-1.4zM245.18 361.60h1.4v0.9h-1.4zM248.81 361.60h1.4v0.9h-1.4zM245.18 359.00h1.4v0.9h-1.4zM248.81 359.00h1.4v0.9h-1.4zM245.18 356.40h1.4v0.9h-1.4zM248.81 356.40h1.4v0.9h-1.4zM245.18 353.80h1.4v0.9h-1.4zM248.81 353.80h1.4v0.9h-1.4zM245.18 351.20h1.4v0.9h-1.4zM248.81 351.20h1.4v0.9h-1.4zM245.18 348.60h1.4v0.9h-1.4zM248.81 348.60h1.4v0.9h-1.4zM245.18 346.00h1.4v0.9h-1.4zM248.81 346.00h1.4v0.9h-1.4zM245.18 343.40h1.4v0.9h-1.4zM248.81 343.40h1.4v0.9h-1.4zM245.18 340.80h1.4v0.9h-1.4zM248.81 340.80h1.4v0.9h-1.4zM245.18 338.20h1.4v0.9h-1.4zM248.81 338.20h1.4v0.9h-1.4zM245.18 335.60h1.4v0.9h-1.4zM248.81 335.60h1.4v0.9h-1.4zM245.18 333.00h1.4v0.9h-1.4zM248.81 333.00h1.4v0.9h-1.4z" fill="#aaa"/>
</g>
<rect x="243.60" y="334.0" width="9.1" height="112.60" fill="none" stroke="#444" stroke-width="0.9"/>
<clipPath id="c30"><rect x="252.70" y="300.80" width="9.10" height="145.80"/></clipPath>
<g clip-path="url(#c30)">
<rect x="252.70" y="300.80" width="9.10" height="145.80" fill="#fff"/>
<path d="M252.70 444.30h2.275v2.3h-2.275zM257.25 444.30h2.275v2.3h-2.275zM261.80 444.30h2.275v2.3h-2.275zM254.97 442.00h2.275v2.3h-2.275zM259.52 442.00h2.275v2.3h-2.275zM264.07 442.00h2.275v2.3h-2.275zM252.70 439.70h2.275v2.3h-2.275zM257.25 439.70h2.275v2.3h-2.275zM261.80 439.70h2.275v2.3h-2.275zM254.97 437.40h2.275v2.3h-2.275zM259.52 437.40h2.275v2.3h-2.275zM264.07 437.40h2.275v2.3h-2.275zM252.70 435.10h2.275v2.3h-2.275zM257.25 435.10h2.275v2.3h-2.275zM261.80 435.10h2.275v2.3h-2.275zM254.97 432.80h2.275v2.3h-2.275zM259.52 432.80h2.275v2.3h-2.275zM264.07 432.80h2.275v2.3h-2.275zM252.70 430.50h2.275v2.3h-2.275zM257.25 430.50h2.275v2.3h-2.275zM261.80 430.50h2.275v2.3h-2.275zM254.97 428.20h2.275v2.3h-2.275zM259.52 428.20h2.275v2.3h-2.275zM264.07 428.20h2.275v2.3h-2.275zM252.70 425.90h2.275v2.3h-2.275zM257.25 425.90h2.275v2.3h-2.275zM261.80 425.90h2.275v2.3h-2.275zM254.97 423.60h2.275v2.3h-2.275zM259.52 423.60h2.275v2.3h-2.275zM264.07 423.60h2.275v2.3h-2.275zM252.70 421.30h2.275v2.3h-2.275zM257.25 421.30h2.275v2.3h-2.275zM261.80 421.30h2.275v2.3h-2.275zM254.97 419.00h2.275v2.3h-2.275zM259.52 419.00h2.275v2.3h-2.275zM264.07 419.00h2.275v2.3h-2.275zM252.70 416.70h2.275v2.3h-2.275zM257.25 416.70h2.275v2.3h-2.275zM261.80 416.70h2.275v2.3h-2.275zM254.97 414.40h2.275v2.3h-2.275zM259.52 414.40h2.275v2.3h-2.275zM264.07 414.40h2.275v2.3h-2.275zM252.70 412.10h2.275v2.3h-2.275zM257.25 412.10h2.275v2.3h-2.275zM261.80 412.10h2.275v2.3h-2.275zM254.97 409.80h2.275v2.3h-2.275zM259.52 409.80h2.275v2.3h-2.275zM264.07 409.80h2.275v2.3h-2.275zM252.70 407.50h2.275v2.3h-2.275zM257.25 407.50h2.275v2.3h-2.275zM261.80 407.50h2.275v2.3h-2.275zM254.97 405.20h2.275v2.3h-2.275zM259.52 405.20h2.275v2.3h-2.275zM264.07 405.20h2.275v2.3h-2.275zM252.70 402.90h2.275v2.3h-2.275zM257.25 402.90h2.275v2.3h-2.275zM261.80 402.90h2.275v2.3h-2.275zM254.97 400.60h2.275v2.3h-2.275zM259.52 400.60h2.275v2.3h-2.275zM264.07 400.60h2.275v2.3h-2.275zM252.70 398.30h2.275v2.3h-2.275zM257.25 398.30h2.275v2.3h-2.275zM261.80 398.30h2.275v2.3h-2.275zM254.97 396.00h2.275v2.3h-2.275zM259.52 396.00h2.275v2.3h-2.275zM264.07 396.00h2.275v2.3h-2.275zM252.70 393.70h2.275v2.3h-2.275zM257.25 393.70h2.275v2.3h-2.275zM261.80 393.70h2.275v2.3h-2.275zM254.97 391.40h2.275v2.3h-2.275zM259.52 391.40h2.275v2.3h-2.275zM264.07 391.40h2.275v2.3h-2.275zM252.70 389.10h2.275v2.3h-2.275zM257.25 389.10h2.275v2.3h-2.275zM261.80 389.10h2.275v2.3h-2.275zM254.97 386.80h2.275v2.3h-2.275zM259.52 386.80h2.275v2.3h-2.275zM264.07 386.80h2.275v2.3h-2.275zM252.70 384.50h2.275v2.3h-2.275zM257.25 384.50h2.275v2.3h-2.275zM261.80 384.50h2.275v2.3h-2.275zM254.97 382.20h2.275v2.3h-2.275zM259.52 382.20h2.275v2.3h-2.275zM264.07 382.20h2.275v2.3h-2.275zM252.70 379.90h2.275v2.3h-2.275zM257.25 379.90h2.275v2.3h-2.275zM261.80 379.90h2.275v2.3h-2.275zM254.97 377.60h2.275v2.3h-2.275zM259.52 377.60h2.275v2.3h-2.275zM264.07 377.60h2.275v2.3h-2.275zM252.70 375.30h2.275v2.3h-2.275zM257.25 375.30h2.275v2.3h-2.275zM261.80 375.30h2.275v2.3h-2.275zM254.97 373.00h2.275v2.3h-2.275zM259.52 373.00h2.275v2.3h-2.275zM264.07 373.00h2.275v2.3h-2.275zM252.70 370.70h2.275v2.3h-2.275zM257.25 370.70h2.275v2.3h-2.275zM261.80 370.70h2.275v2.3h-2.275zM254.97 368.40h2.275v2.3h-2.275zM259.52 368.40h2.275v2.3h-2.275zM264.07 368.40h2.275v2.3h-2.275zM252.70 366.10h2.275v2.3h-2.275zM257.25 366.10h2.275v2.3h-2.275zM261.80 366.10h2.275v2.3h-2.275zM254.97 363.80h2.275v2.3h-2.275zM259.52 363.80h2.275v2.3h-2.275zM264.07 363.80h2.275v2.3h-2.275zM252.70 361.50h2.275v2.3h-2.275zM257.25 361.50h2.275v2.3h-2.275zM261.80 361.50h2.275v2.3h-2.275zM254.97 359.20h2.275v2.3h-2.275zM259.52 359.20h2.275v2.3h-2.275zM264.07 359.20h2.275v2.3h-2.275zM252.70 356.90h2.275v2.3h-2.275zM257.25 356.90h2.275v2.3h-2.275zM261.80 356.90h2.275v2.3h-2.275zM254.97 354.60h2.275v2.3h-2.275zM259.52 354.60h2.275v2.3h-2.275zM264.07 354.60h2.275v2.3h-2.275zM252.70 352.30h2.275v2.3h-2.275zM257.25 352.30h2.275v2.3h-2.275zM261.80 352.30h2.275v2.3h-2.275zM254.97 350.00h2.275v2.3h-2.275zM259.52 350.00h2.275v2.3h-2.275zM264.07 350.00h2.275v2.3h-2.275zM252.70 347.70h2.275v2.3h-2.275zM257.25 347.70h2.275v2.3h-2.275zM261.80 347.70h2.275v2.3h-2.275zM254.97 345.40h2.275v2.3h-2.275zM259.52 345.40h2.275v2.3h-2.275zM264.07 345.40h2.275v2.3h-2.275zM252.70 343.10h2.275v2.3h-2.275zM257.25 343.10h2.275v2.3h-2.275zM261.80 343.10h2.275v2.3h-2.275zM254.97 340.80h2.275v2.3h-2.275zM259.52 340.80h2.275v2.3h-2.275zM264.07 340.80h2.275v2.3h-2.275zM252.70 338.50h2.275v2.3h-2.275zM257.25 338.50h2.275v2.3h-2.275zM261.80 338.50h2.275v2.3h-2.275zM254.97 336.20h2.275v2.3h-2.275zM259.52 336.20h2.275v2.3h-2.275zM264.07 336.20h2.275v2.3h-2.275zM252.70 333.90h2.275v2.3h-2.275zM257.25 333.90h2.275v2.3h-2.275zM261.80 333.90h2.275v2.3h-2.275zM254.97 331.60h2.275v2.3h-2.275zM259.52 331.60h2.275v2.3h-2.275zM264.07 331.60h2.275v2.3h-2.275zM252.70 329.30h2.275v2.3h-2.275zM257.25 329.30h2.275v2.3h-2.275zM261.80 329.30h2.275v2.3h-2.275zM254.97 327.00h2.275v2.3h-2.275zM259.52 327.00h2.275v2.3h-2.275zM264.07 327.00h2.275v2.3h-2.275zM252.70 324.70h2.275v2.3h-2.275zM257.25 324.70h2.275v2.3h-2.275zM261.80 324.70h2.275v2.3h-2.275zM254.97 322.40h2.275v2.3h-2.275zM259.52 322.40h2.275v2.3h-2.275zM264.07 322.40h2.275v2.3h-2.275zM252.70 320.10h2.275v2.3h-2.275zM257.25 320.10h2.275v2.3h-2.275zM261.80 320.10h2.275v2.3h-2.275zM254.97 317.80h2.275v2.3h-2.275zM259.52 317.80h2.275v2.3h-2.275zM264.07 317.80h2.275v2.3h-2.275zM252.70 315.50h2.275v2.3h-2.275zM257.25 315.50h2.275v2.3h-2.275zM261.80 315.50h2.275v2.3h-2.275zM254.97 313.20h2.275v2.3h-2.275zM259.52 313.20h2.275v2.3h-2.275zM264.07 313.20h2.275v2.3h-2.275zM252.70 310.90h2.275v2.3h-2.275zM257.25 310.90h2.275v2.3h-2.275zM261.80 310.90h2.275v2.3h-2.275zM254.97 308.60h2.275v2.3h-2.275zM259.52 308.60h2.275v2.3h-2.275zM264.07 308.60h2.275v2.3h-2.275zM252.70 306.30h2.275v2.3h-2.275zM257.25 306.30h2.275v2.3h-2.275zM261.80 306.30h2.275v2.3h-2.275zM254.97 304.00h2.275v2.3h-2.275zM259.52 304.00h2.275v2.3h-2.275zM264.07 304.00h2.275v2.3h-2.275zM252.70 301.70h2.275v2.3h-2.275zM257.25 301.70h2.275v2.3h-2.275zM261.80 301.70h2.275v2.3h-2.275zM254.97 299.40h2.275v2.3h-2.275zM259.52 299.40h2.275v2.3h-2.275zM264.07 299.40h2.275v2.3h-2.275z" fill="#000"/>
</g>
<rect x="252.70" y="300.8" width="9.1" height="145.80" fill="none" stroke="#444" stroke-width="0.9"/>
<line x1="229.95" y1="272.3" x2="229.95" y2="316.10" stroke="#808080" stroke-width="1.2"/>
<rect x="229.05" y="271.60" width="1.8" height="1.4" fill="#333"/>
<rect x="229.05" y="315.40" width="1.8" height="1.4" fill="#333"/>
<line x1="239.05" y1="356.5" x2="239.05" y2="381.70" stroke="#808080" stroke-width="1.2"/>
<rect x="238.15" y="355.80" width="1.8" height="1.4" fill="#333"/>
<rect x="238.15" y="381.00" width="1.8" height="1.4" fill="#333"/>
<line x1="248.15" y1="326.0" x2="248.15" y2="342.00" stroke="#808080" stroke-width="1.2"/>
<rect x="247.25" y="325.30" width="1.8" height="1.4" fill="#333"/>
<rect x="247.25" y="341.30" width="1.8" height="1.4" fill="#333"/>
<line x1="257.25" y1="283.40000000000003" x2="257.25" y2="318.20" stroke="#808080" stroke-width="1.2"/>
<rect x="256.35" y="282.70" width="1.8" height="1.4" fill="#333"/>
<rect x="256.35" y="317.50" width="1.8" height="1.4" fill="#333"/>
<text x="107.65" y="359.24" font-size="7" font-weight="normal" text-anchor="middle" fill="#111" style="stroke:#111;stroke-width:0.35px" textLength="5.86" lengthAdjust="spacingAndGlyphs">**</text>
<text x="116.75" y="356.34" font-size="7" font-weight="normal" text-anchor="middle" fill="#111" style="stroke:#111;stroke-width:0.35px" textLength="5.86" lengthAdjust="spacingAndGlyphs">**</text>
<text x="125.85" y="361.24" font-size="7" font-weight="normal" text-anchor="middle" fill="#111" style="stroke:#111;stroke-width:0.35px" textLength="5.86" lengthAdjust="spacingAndGlyphs">**</text>
<text x="151.45" y="345.34" font-size="7" font-weight="normal" text-anchor="middle" fill="#111" style="stroke:#111;stroke-width:0.35px" textLength="5.54" lengthAdjust="spacingAndGlyphs">**</text>
<text x="160.55" y="342.44" font-size="7" font-weight="normal" text-anchor="middle" fill="#111" style="stroke:#111;stroke-width:0.35px" textLength="5.86" lengthAdjust="spacingAndGlyphs">**</text>
<text x="169.65" y="327.08" font-size="7.2" font-weight="normal" text-anchor="middle" fill="#111" style="stroke:#111;stroke-width:0.35px" textLength="3.91" lengthAdjust="spacingAndGlyphs">#</text>
<text x="195.25" y="353.24" font-size="7" font-weight="normal" text-anchor="middle" fill="#111" style="stroke:#111;stroke-width:0.35px" textLength="5.86" lengthAdjust="spacingAndGlyphs">**</text>
<text x="204.35" y="328.98" font-size="7.2" font-weight="normal" text-anchor="middle" fill="#111" style="stroke:#111;stroke-width:0.35px" textLength="3.91" lengthAdjust="spacingAndGlyphs">#</text>
<text x="213.45" y="307.80" font-size="7.4" font-weight="normal" text-anchor="middle" fill="#111" style="stroke:#111;stroke-width:0.35px" textLength="7.48" lengthAdjust="spacingAndGlyphs">##</text>
<text x="239.05" y="354.14" font-size="7" font-weight="normal" text-anchor="middle" fill="#111" style="stroke:#111;stroke-width:0.35px" textLength="5.86" lengthAdjust="spacingAndGlyphs">**</text>
<text x="248.15" y="313.78" font-size="6.6" font-weight="normal" text-anchor="middle" fill="#222" style="stroke:#222;stroke-width:0.35px" textLength="6.67" lengthAdjust="spacingAndGlyphs">##</text>
<text x="248.15" y="320.55" font-size="6.8" font-weight="normal" text-anchor="middle" fill="#222" style="stroke:#222;stroke-width:0.35px" textLength="6.93" lengthAdjust="spacingAndGlyphs">&amp;&amp;</text>
<text x="257.25" y="280.45" font-size="7.4" font-weight="normal" text-anchor="middle" fill="#111" style="stroke:#111;stroke-width:0.35px" textLength="7.48" lengthAdjust="spacingAndGlyphs">##</text>
<rect x="266.4" y="291.90" width="7.2" height="7.2" fill="#fff" stroke="#333" stroke-width="0.8"/>
<text x="275.2" y="298.9" font-size="7.1" text-anchor="start" font-weight="normal" fill="#000" textLength="41.5" lengthAdjust="spacingAndGlyphs" style="stroke-width:0.15px">control group</text>
<rect x="266.4" y="301.80" width="7.2" height="7.2" fill="url(#stB)" stroke="#333" stroke-width="0.8"/>
<text x="275.2" y="308.7" font-size="7.1" text-anchor="start" font-weight="normal" fill="#000" textLength="77" lengthAdjust="spacingAndGlyphs" style="stroke-width:0.15px">0mg venlafaxine+CUMS</text>
<rect x="266.4" y="311.90" width="7.2" height="7.2" fill="url(#dtB)" stroke="#333" stroke-width="0.8"/>
<text x="275.2" y="319.1" font-size="7.1" text-anchor="start" font-weight="normal" fill="#000" textLength="76.7" lengthAdjust="spacingAndGlyphs" style="stroke-width:0.15px">5mg venlafaxine+CUMS</text>
<rect x="266.4" y="321.40" width="7.2" height="7.2" fill="url(#ckB)" stroke="#333" stroke-width="0.8"/>
<text x="275.2" y="328.9" font-size="7.1" text-anchor="start" font-weight="normal" fill="#000" textLength="80.5" lengthAdjust="spacingAndGlyphs" style="stroke-width:0.15px">10mg venlafaxine+CUMS</text>
<text x="155" y="472.4" font-size="8.8" text-anchor="middle" font-weight="normal" fill="#000" textLength="62.4" lengthAdjust="spacingAndGlyphs" >The time point(day)</text>
<text transform="translate(9.3,378.9) rotate(-90)" font-size="9.6" textLength="54" lengthAdjust="spacingAndGlyphs">rearing(times)</text>
<text x="9.9" y="259" font-size="19.5" text-anchor="start" font-weight="bold" fill="#000" >b</text></svg>
</body></html>
